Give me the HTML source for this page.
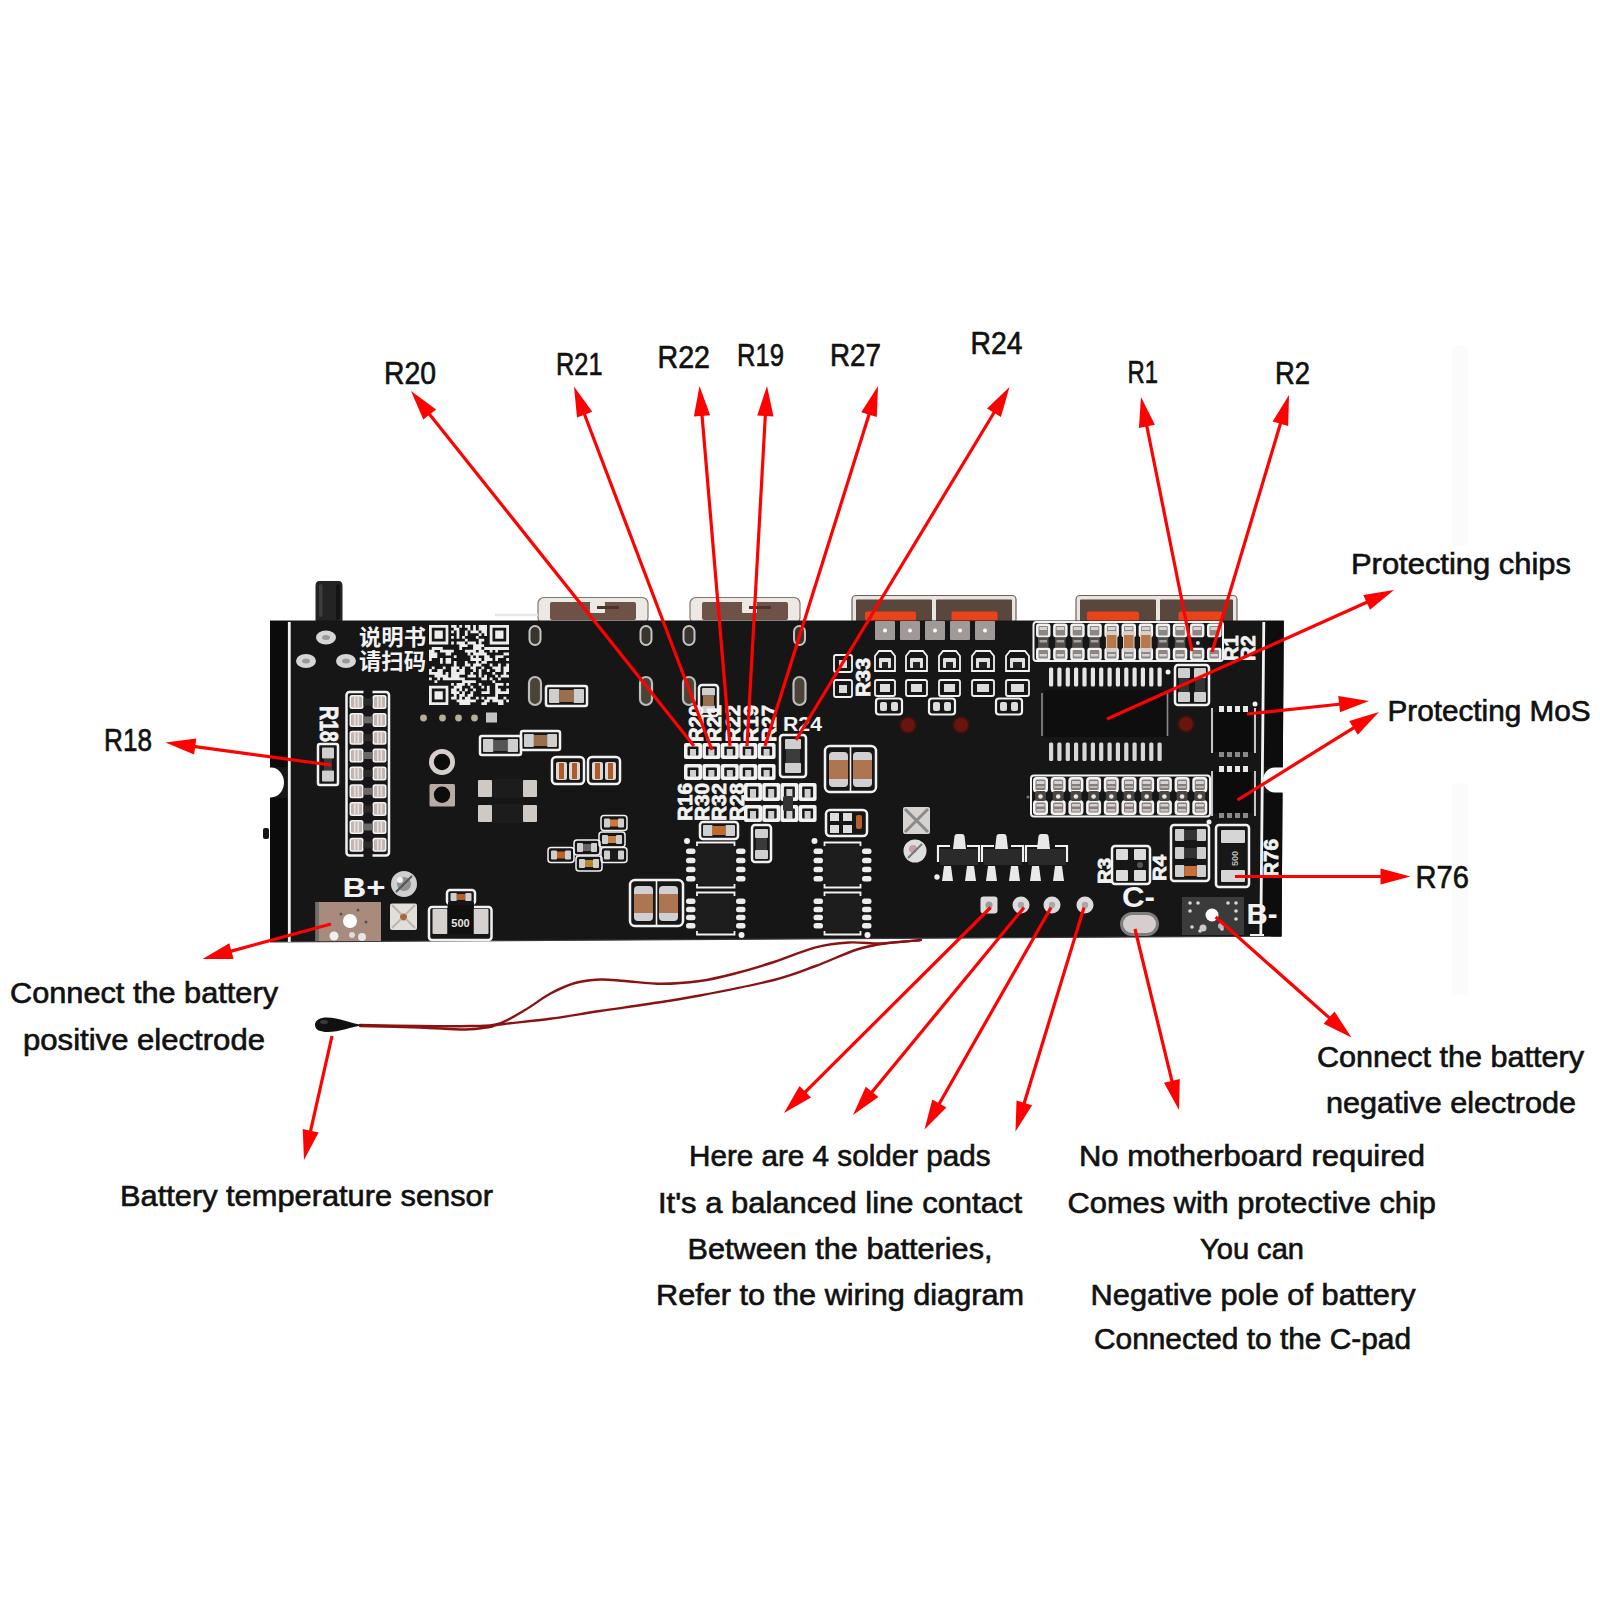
<!DOCTYPE html>
<html lang="en"><head><meta charset="utf-8"><title>Battery protection board wiring diagram</title>
<style>
html,body{margin:0;padding:0;background:#fff;}
body{width:1600px;height:1600px;overflow:hidden;font-family:"Liberation Sans","Noto Sans CJK SC",sans-serif;}
svg{display:block;}
</style></head><body>
<svg width="1600" height="1600" viewBox="0 0 1600 1600">
<rect width="1600" height="1600" fill="#ffffff"/>
<rect x="1452" y="346" width="16" height="200" fill="#fbfbfb" rx="4"/>
<rect x="1452" y="783" width="16" height="212" fill="#fbfbfb" rx="4"/>
<g id="pcb">
<path d="M315.500 621V586q0-5 4-5h19q4 0 4 5V621Z" fill="#242424"/>
<rect x="319" y="584" width="3.5" height="33" fill="#3d3d3d" rx="2"/>
<rect x="336" y="584" width="4" height="36" fill="#151515" rx="2"/>
<rect x="538" y="597.5" width="110" height="26" fill="#ece9e5" rx="6" stroke="#85766c" stroke-width="1.2"/>
<rect x="550" y="602" width="86" height="18" fill="#6e5248" rx="2"/>
<rect x="590" y="602" width="15" height="11" fill="#ece9e5" rx="1"/>
<rect x="597" y="606" width="22" height="3" fill="#4a342c"/>
<rect x="690" y="597.5" width="110" height="26" fill="#ece9e5" rx="6" stroke="#85766c" stroke-width="1.2"/>
<rect x="702" y="602" width="86" height="18" fill="#6e5248" rx="2"/>
<rect x="742" y="602" width="15" height="11" fill="#ece9e5" rx="1"/>
<rect x="749" y="606" width="22" height="3" fill="#4a342c"/>
<path d="M495 615H538" stroke="#e6e6e6" stroke-width="2.5"/>
<rect x="852" y="595.5" width="164" height="28" fill="#e9e6e2" rx="4" stroke="#6f6056" stroke-width="1.2"/>
<rect x="856" y="599.5" width="76" height="22" fill="#59463c" rx="1"/>
<rect x="936" y="599.5" width="76" height="22" fill="#59463c" rx="1"/>
<rect x="865" y="611.5" width="51" height="10" fill="#e8431a" rx="2"/>
<rect x="951.5" y="611.5" width="46" height="10" fill="#e8431a" rx="2"/>
<rect x="1076" y="595.5" width="161" height="28" fill="#e9e6e2" rx="4" stroke="#6f6056" stroke-width="1.2"/>
<rect x="1080" y="599.5" width="76" height="22" fill="#59463c" rx="1"/>
<rect x="1160" y="599.5" width="73" height="22" fill="#59463c" rx="1"/>
<rect x="1087" y="611.5" width="52" height="10" fill="#e8431a" rx="2"/>
<rect x="1178.5" y="611.5" width="44.5" height="10" fill="#e8431a" rx="2"/>
<path d="M270 620.5H1283.8L1282.8 767.5H1275a12 12.5 0 0 0 0 25H1282.5L1281.6 936.2L270 942V797.5H271a13 15 0 0 0 0-30H270Z" fill="#161616"/>
<path d="M270 942L1281.6 936.2" stroke="#3a3a3a" stroke-width="1.2"/>
<rect x="263" y="828" width="6" height="11" fill="#151515" rx="2"/>
<rect x="270" y="621" width="18" height="146" fill="#0b0b0b"/>
<rect x="270" y="798" width="18" height="143" fill="#0b0b0b"/>
<path d="M1265.5 621H1283.8L1282.8 767H1264.5ZM1264 793H1282.5L1281.6 936H1262.5Z" fill="#0d0d0d"/>
<path d="M289.3 622V942M1263.8 622L1260.8 935.5" stroke="#f2f2f2" stroke-width="2.8"/>
</g>
<g id="parts" font-family="'Liberation Sans','Noto Sans CJK SC',sans-serif">
<ellipse cx="326" cy="637.5" rx="10" ry="7" fill="#d6d6d6"/>
<ellipse cx="326" cy="637.5" rx="4" ry="2.5" fill="#9a9a9a"/>
<ellipse cx="306" cy="661" rx="10" ry="7" fill="#d6d6d6"/>
<ellipse cx="306" cy="661" rx="4" ry="2.5" fill="#9a9a9a"/>
<ellipse cx="346" cy="661" rx="10" ry="7" fill="#d6d6d6"/>
<ellipse cx="346" cy="661" rx="4" ry="2.5" fill="#9a9a9a"/>
<text x="359" y="645" font-size="22" font-weight="bold" fill="#f2f2f2" text-anchor="start" textLength="67" lengthAdjust="spacingAndGlyphs">说明书</text>
<text x="359" y="669" font-size="22" font-weight="bold" fill="#f2f2f2" text-anchor="start" textLength="67" lengthAdjust="spacingAndGlyphs">请扫码</text>
<path d="M429 625h19.3v2.8h-19.3zM451.1 625h5.5v2.8h-5.5zM459.3 625h2.8v2.8h-2.8zM464.9 625h5.5v2.8h-5.5zM473.1 625h2.8v2.8h-2.8zM478.7 625h8.3v2.8h-8.3zM489.7 625h19.3v2.8h-19.3zM429 627.8h2.8v2.8h-2.8zM445.6 627.8h2.8v2.8h-2.8zM453.8 627.8h5.5v2.8h-5.5zM467.6 627.8h2.8v2.8h-2.8zM473.1 627.8h2.8v2.8h-2.8zM478.7 627.8h8.3v2.8h-8.3zM489.7 627.8h2.8v2.8h-2.8zM506.2 627.8h2.8v2.8h-2.8zM429 630.5h2.8v2.8h-2.8zM434.5 630.5h8.3v2.8h-8.3zM445.6 630.5h2.8v2.8h-2.8zM451.1 630.5h2.8v2.8h-2.8zM456.6 630.5h2.8v2.8h-2.8zM464.9 630.5h2.8v2.8h-2.8zM470.4 630.5h8.3v2.8h-8.3zM481.4 630.5h5.5v2.8h-5.5zM489.7 630.5h2.8v2.8h-2.8zM495.2 630.5h8.3v2.8h-8.3zM506.2 630.5h2.8v2.8h-2.8zM429 633.3h2.8v2.8h-2.8zM434.5 633.3h8.3v2.8h-8.3zM445.6 633.3h2.8v2.8h-2.8zM456.6 633.3h2.8v2.8h-2.8zM464.9 633.3h2.8v2.8h-2.8zM478.7 633.3h2.8v2.8h-2.8zM484.2 633.3h2.8v2.8h-2.8zM489.7 633.3h2.8v2.8h-2.8zM495.2 633.3h8.3v2.8h-8.3zM506.2 633.3h2.8v2.8h-2.8zM429 636h2.8v2.8h-2.8zM434.5 636h8.3v2.8h-8.3zM445.6 636h2.8v2.8h-2.8zM451.1 636h2.8v2.8h-2.8zM456.6 636h2.8v2.8h-2.8zM462.1 636h2.8v2.8h-2.8zM475.9 636h2.8v2.8h-2.8zM489.7 636h2.8v2.8h-2.8zM495.2 636h8.3v2.8h-8.3zM506.2 636h2.8v2.8h-2.8zM429 638.8h2.8v2.8h-2.8zM445.6 638.8h2.8v2.8h-2.8zM464.9 638.8h2.8v2.8h-2.8zM478.7 638.8h5.5v2.8h-5.5zM489.7 638.8h2.8v2.8h-2.8zM506.2 638.8h2.8v2.8h-2.8zM429 641.6h19.3v2.8h-19.3zM451.1 641.6h2.8v2.8h-2.8zM456.6 641.6h8.3v2.8h-8.3zM467.6 641.6h8.3v2.8h-8.3zM478.7 641.6h2.8v2.8h-2.8zM489.7 641.6h19.3v2.8h-19.3zM459.3 644.3h8.3v2.8h-8.3zM473.1 644.3h11v2.8h-11zM431.8 647.1h11v2.8h-11zM459.3 647.1h2.8v2.8h-2.8zM473.1 647.1h8.3v2.8h-8.3zM484.2 647.1h24.8v2.8h-24.8zM429 649.8h5.5v2.8h-5.5zM440 649.8h13.8v2.8h-13.8zM464.9 649.8h11v2.8h-11zM478.7 649.8h5.5v2.8h-5.5zM489.7 649.8h2.8v2.8h-2.8zM495.2 649.8h2.8v2.8h-2.8zM429 652.6h8.3v2.8h-8.3zM445.6 652.6h5.5v2.8h-5.5zM467.6 652.6h2.8v2.8h-2.8zM473.1 652.6h13.8v2.8h-13.8zM503.5 652.6h5.5v2.8h-5.5zM429 655.3h8.3v2.8h-8.3zM453.8 655.3h2.8v2.8h-2.8zM470.4 655.3h2.8v2.8h-2.8zM475.9 655.3h2.8v2.8h-2.8zM484.2 655.3h5.5v2.8h-5.5zM495.2 655.3h8.3v2.8h-8.3zM429 658.1h2.8v2.8h-2.8zM440 658.1h2.8v2.8h-2.8zM445.6 658.1h5.5v2.8h-5.5zM470.4 658.1h11v2.8h-11zM484.2 658.1h8.3v2.8h-8.3zM495.2 658.1h2.8v2.8h-2.8zM506.2 658.1h2.8v2.8h-2.8zM440 660.9h2.8v2.8h-2.8zM445.6 660.9h5.5v2.8h-5.5zM453.8 660.9h2.8v2.8h-2.8zM464.9 660.9h2.8v2.8h-2.8zM475.9 660.9h2.8v2.8h-2.8zM481.4 660.9h5.5v2.8h-5.5zM453.8 663.6h2.8v2.8h-2.8zM464.9 663.6h5.5v2.8h-5.5zM473.1 663.6h8.3v2.8h-8.3zM489.7 663.6h2.8v2.8h-2.8zM498 663.6h2.8v2.8h-2.8zM506.2 663.6h2.8v2.8h-2.8zM431.8 666.4h2.8v2.8h-2.8zM442.8 666.4h2.8v2.8h-2.8zM451.1 666.4h8.3v2.8h-8.3zM462.1 666.4h2.8v2.8h-2.8zM470.4 666.4h5.5v2.8h-5.5zM481.4 666.4h2.8v2.8h-2.8zM492.4 666.4h8.3v2.8h-8.3zM503.5 666.4h5.5v2.8h-5.5zM429 669.1h2.8v2.8h-2.8zM437.3 669.1h5.5v2.8h-5.5zM451.1 669.1h5.5v2.8h-5.5zM459.3 669.1h5.5v2.8h-5.5zM473.1 669.1h2.8v2.8h-2.8zM478.7 669.1h2.8v2.8h-2.8zM486.9 669.1h2.8v2.8h-2.8zM495.2 669.1h5.5v2.8h-5.5zM503.5 669.1h5.5v2.8h-5.5zM429 671.9h13.8v2.8h-13.8zM445.6 671.9h2.8v2.8h-2.8zM451.1 671.9h13.8v2.8h-13.8zM470.4 671.9h2.8v2.8h-2.8zM478.7 671.9h2.8v2.8h-2.8zM492.4 671.9h2.8v2.8h-2.8zM503.5 671.9h2.8v2.8h-2.8zM434.5 674.7h13.8v2.8h-13.8zM451.1 674.7h8.3v2.8h-8.3zM467.6 674.7h8.3v2.8h-8.3zM478.7 674.7h2.8v2.8h-2.8zM484.2 674.7h2.8v2.8h-2.8zM495.2 674.7h2.8v2.8h-2.8zM500.7 674.7h8.3v2.8h-8.3zM429 677.4h2.8v2.8h-2.8zM437.3 677.4h2.8v2.8h-2.8zM442.8 677.4h22.1v2.8h-22.1zM481.4 677.4h5.5v2.8h-5.5zM489.7 677.4h2.8v2.8h-2.8zM498 677.4h2.8v2.8h-2.8zM434.5 680.2h2.8v2.8h-2.8zM462.1 680.2h13.8v2.8h-13.8zM492.4 680.2h2.8v2.8h-2.8zM451.1 682.9h2.8v2.8h-2.8zM456.6 682.9h8.3v2.8h-8.3zM467.6 682.9h2.8v2.8h-2.8zM478.7 682.9h2.8v2.8h-2.8zM495.2 682.9h8.3v2.8h-8.3zM506.2 682.9h2.8v2.8h-2.8zM429 685.7h19.3v2.8h-19.3zM453.8 685.7h8.3v2.8h-8.3zM470.4 685.7h2.8v2.8h-2.8zM481.4 685.7h2.8v2.8h-2.8zM486.9 685.7h2.8v2.8h-2.8zM495.2 685.7h2.8v2.8h-2.8zM429 688.4h2.8v2.8h-2.8zM445.6 688.4h2.8v2.8h-2.8zM451.1 688.4h5.5v2.8h-5.5zM459.3 688.4h2.8v2.8h-2.8zM464.9 688.4h2.8v2.8h-2.8zM473.1 688.4h2.8v2.8h-2.8zM486.9 688.4h2.8v2.8h-2.8zM495.2 688.4h5.5v2.8h-5.5zM506.2 688.4h2.8v2.8h-2.8zM429 691.2h2.8v2.8h-2.8zM434.5 691.2h8.3v2.8h-8.3zM445.6 691.2h2.8v2.8h-2.8zM451.1 691.2h8.3v2.8h-8.3zM462.1 691.2h2.8v2.8h-2.8zM470.4 691.2h2.8v2.8h-2.8zM481.4 691.2h8.3v2.8h-8.3zM495.2 691.2h13.8v2.8h-13.8zM429 694h2.8v2.8h-2.8zM434.5 694h8.3v2.8h-8.3zM445.6 694h2.8v2.8h-2.8zM453.8 694h2.8v2.8h-2.8zM459.3 694h5.5v2.8h-5.5zM467.6 694h5.5v2.8h-5.5zM495.2 694h2.8v2.8h-2.8zM429 696.7h2.8v2.8h-2.8zM434.5 696.7h8.3v2.8h-8.3zM445.6 696.7h2.8v2.8h-2.8zM451.1 696.7h5.5v2.8h-5.5zM459.3 696.7h2.8v2.8h-2.8zM464.9 696.7h5.5v2.8h-5.5zM475.9 696.7h2.8v2.8h-2.8zM481.4 696.7h2.8v2.8h-2.8zM486.9 696.7h11v2.8h-11zM503.5 696.7h2.8v2.8h-2.8zM429 699.5h2.8v2.8h-2.8zM445.6 699.5h2.8v2.8h-2.8zM456.6 699.5h19.3v2.8h-19.3zM484.2 699.5h5.5v2.8h-5.5zM492.4 699.5h11v2.8h-11zM506.2 699.5h2.8v2.8h-2.8zM429 702.2h19.3v2.8h-19.3zM459.3 702.2h11v2.8h-11zM481.4 702.2h5.5v2.8h-5.5zM498 702.2h5.5v2.8h-5.5z" fill="#ededed"/>
<rect x="529.5" y="626" width="11" height="19" rx="5.5" fill="#3a352c" stroke="#c4c4c4" stroke-width="2"/>
<rect x="529" y="677" width="12" height="28" rx="6" fill="#4a4438" stroke="#bdbdbd" stroke-width="2.2"/>
<rect x="640.5" y="626" width="11" height="19" rx="5.5" fill="#3a352c" stroke="#c4c4c4" stroke-width="2"/>
<rect x="640" y="677" width="12" height="28" rx="6" fill="#4a4438" stroke="#bdbdbd" stroke-width="2.2"/>
<rect x="683.5" y="626" width="11" height="19" rx="5.5" fill="#3a352c" stroke="#c4c4c4" stroke-width="2"/>
<rect x="683" y="677" width="12" height="28" rx="6" fill="#4a4438" stroke="#bdbdbd" stroke-width="2.2"/>
<rect x="794" y="626" width="11" height="19" rx="5.5" fill="#3a352c" stroke="#c4c4c4" stroke-width="2"/>
<rect x="793.5" y="677" width="12" height="28" rx="6" fill="#4a4438" stroke="#bdbdbd" stroke-width="2.2"/>
<text x="319.5" y="706" font-size="25" font-weight="bold" fill="#f2f2f2" stroke="#f2f2f2" stroke-width="0.8" text-anchor="start" transform="rotate(90 319.5 706)" textLength="36" lengthAdjust="spacingAndGlyphs">R18</text>
<rect x="318" y="744" width="20" height="41" fill="none" stroke="#f2f2f2" stroke-width="2.5" rx="2"/>
<rect x="322" y="747.5" width="12" height="11" fill="#cfcfcf" rx="1"/>
<rect x="322" y="770.5" width="12" height="11" fill="#cfcfcf" rx="1"/>
<rect x="324" y="759" width="8" height="11" fill="#3a3a3a"/>
<rect x="346.5" y="692" width="42.5" height="163.5" fill="none" stroke="#f2f2f2" stroke-width="2.5" rx="3"/>
<rect x="363.5" y="690" width="9" height="4" fill="#161616"/>
<rect x="363.5" y="853.5" width="9" height="4" fill="#161616"/>
<rect x="349.5" y="695" width="14" height="14" fill="#f2f2f2" rx="2.5"/>
<rect x="372.5" y="695" width="14" height="14" fill="#f2f2f2" rx="2.5"/>
<rect x="351" y="696.5" width="11" height="11" fill="#c2b6b2" rx="1.5"/>
<rect x="374" y="696.5" width="11" height="11" fill="#c2b6b2" rx="1.5"/>
<rect x="354" y="696.5" width="1.6" height="11" fill="#e8e0dd"/>
<rect x="357.5" y="696.5" width="1.6" height="11" fill="#e8e0dd"/>
<rect x="377" y="696.5" width="1.6" height="11" fill="#e8e0dd"/>
<rect x="380.5" y="696.5" width="1.6" height="11" fill="#e8e0dd"/>
<rect x="363.5" y="698.5" width="9" height="7" fill="#2a2a2a"/>
<rect x="349.5" y="712.9" width="14" height="14" fill="#f2f2f2" rx="2.5"/>
<rect x="372.5" y="712.9" width="14" height="14" fill="#f2f2f2" rx="2.5"/>
<rect x="351" y="714.4" width="11" height="11" fill="#c2b6b2" rx="1.5"/>
<rect x="374" y="714.4" width="11" height="11" fill="#c2b6b2" rx="1.5"/>
<rect x="354" y="714.4" width="1.6" height="11" fill="#e8e0dd"/>
<rect x="357.5" y="714.4" width="1.6" height="11" fill="#e8e0dd"/>
<rect x="377" y="714.4" width="1.6" height="11" fill="#e8e0dd"/>
<rect x="380.5" y="714.4" width="1.6" height="11" fill="#e8e0dd"/>
<rect x="363.5" y="716.4" width="9" height="7" fill="#6a6a6a"/>
<rect x="349.5" y="730.7" width="14" height="14" fill="#f2f2f2" rx="2.5"/>
<rect x="372.5" y="730.7" width="14" height="14" fill="#f2f2f2" rx="2.5"/>
<rect x="351" y="732.2" width="11" height="11" fill="#c2b6b2" rx="1.5"/>
<rect x="374" y="732.2" width="11" height="11" fill="#c2b6b2" rx="1.5"/>
<rect x="354" y="732.2" width="1.6" height="11" fill="#e8e0dd"/>
<rect x="357.5" y="732.2" width="1.6" height="11" fill="#e8e0dd"/>
<rect x="377" y="732.2" width="1.6" height="11" fill="#e8e0dd"/>
<rect x="380.5" y="732.2" width="1.6" height="11" fill="#e8e0dd"/>
<rect x="363.5" y="734.2" width="9" height="7" fill="#2a2a2a"/>
<rect x="349.5" y="748.5" width="14" height="14" fill="#f2f2f2" rx="2.5"/>
<rect x="372.5" y="748.5" width="14" height="14" fill="#f2f2f2" rx="2.5"/>
<rect x="351" y="750" width="11" height="11" fill="#c2b6b2" rx="1.5"/>
<rect x="374" y="750" width="11" height="11" fill="#c2b6b2" rx="1.5"/>
<rect x="354" y="750" width="1.6" height="11" fill="#e8e0dd"/>
<rect x="357.5" y="750" width="1.6" height="11" fill="#e8e0dd"/>
<rect x="377" y="750" width="1.6" height="11" fill="#e8e0dd"/>
<rect x="380.5" y="750" width="1.6" height="11" fill="#e8e0dd"/>
<rect x="363.5" y="752" width="9" height="7" fill="#6a6a6a"/>
<rect x="349.5" y="766.4" width="14" height="14" fill="#f2f2f2" rx="2.5"/>
<rect x="372.5" y="766.4" width="14" height="14" fill="#f2f2f2" rx="2.5"/>
<rect x="351" y="767.9" width="11" height="11" fill="#c2b6b2" rx="1.5"/>
<rect x="374" y="767.9" width="11" height="11" fill="#c2b6b2" rx="1.5"/>
<rect x="354" y="767.9" width="1.6" height="11" fill="#e8e0dd"/>
<rect x="357.5" y="767.9" width="1.6" height="11" fill="#e8e0dd"/>
<rect x="377" y="767.9" width="1.6" height="11" fill="#e8e0dd"/>
<rect x="380.5" y="767.9" width="1.6" height="11" fill="#e8e0dd"/>
<rect x="363.5" y="769.9" width="9" height="7" fill="#2a2a2a"/>
<rect x="349.5" y="784.2" width="14" height="14" fill="#f2f2f2" rx="2.5"/>
<rect x="372.5" y="784.2" width="14" height="14" fill="#f2f2f2" rx="2.5"/>
<rect x="351" y="785.8" width="11" height="11" fill="#c2b6b2" rx="1.5"/>
<rect x="374" y="785.8" width="11" height="11" fill="#c2b6b2" rx="1.5"/>
<rect x="354" y="785.8" width="1.6" height="11" fill="#e8e0dd"/>
<rect x="357.5" y="785.8" width="1.6" height="11" fill="#e8e0dd"/>
<rect x="377" y="785.8" width="1.6" height="11" fill="#e8e0dd"/>
<rect x="380.5" y="785.8" width="1.6" height="11" fill="#e8e0dd"/>
<rect x="363.5" y="787.8" width="9" height="7" fill="#6a6a6a"/>
<rect x="349.5" y="802.1" width="14" height="14" fill="#f2f2f2" rx="2.5"/>
<rect x="372.5" y="802.1" width="14" height="14" fill="#f2f2f2" rx="2.5"/>
<rect x="351" y="803.6" width="11" height="11" fill="#c2b6b2" rx="1.5"/>
<rect x="374" y="803.6" width="11" height="11" fill="#c2b6b2" rx="1.5"/>
<rect x="354" y="803.6" width="1.6" height="11" fill="#e8e0dd"/>
<rect x="357.5" y="803.6" width="1.6" height="11" fill="#e8e0dd"/>
<rect x="377" y="803.6" width="1.6" height="11" fill="#e8e0dd"/>
<rect x="380.5" y="803.6" width="1.6" height="11" fill="#e8e0dd"/>
<rect x="363.5" y="805.6" width="9" height="7" fill="#2a2a2a"/>
<rect x="349.5" y="820" width="14" height="14" fill="#f2f2f2" rx="2.5"/>
<rect x="372.5" y="820" width="14" height="14" fill="#f2f2f2" rx="2.5"/>
<rect x="351" y="821.5" width="11" height="11" fill="#c2b6b2" rx="1.5"/>
<rect x="374" y="821.5" width="11" height="11" fill="#c2b6b2" rx="1.5"/>
<rect x="354" y="821.5" width="1.6" height="11" fill="#e8e0dd"/>
<rect x="357.5" y="821.5" width="1.6" height="11" fill="#e8e0dd"/>
<rect x="377" y="821.5" width="1.6" height="11" fill="#e8e0dd"/>
<rect x="380.5" y="821.5" width="1.6" height="11" fill="#e8e0dd"/>
<rect x="363.5" y="823.5" width="9" height="7" fill="#6a6a6a"/>
<rect x="349.5" y="837.8" width="14" height="14" fill="#f2f2f2" rx="2.5"/>
<rect x="372.5" y="837.8" width="14" height="14" fill="#f2f2f2" rx="2.5"/>
<rect x="351" y="839.3" width="11" height="11" fill="#c2b6b2" rx="1.5"/>
<rect x="374" y="839.3" width="11" height="11" fill="#c2b6b2" rx="1.5"/>
<rect x="354" y="839.3" width="1.6" height="11" fill="#e8e0dd"/>
<rect x="357.5" y="839.3" width="1.6" height="11" fill="#e8e0dd"/>
<rect x="377" y="839.3" width="1.6" height="11" fill="#e8e0dd"/>
<rect x="380.5" y="839.3" width="1.6" height="11" fill="#e8e0dd"/>
<rect x="363.5" y="841.3" width="9" height="7" fill="#2a2a2a"/>
<circle cx="423.5" cy="718" r="3.4" fill="#b8ae98"/>
<circle cx="442.5" cy="718" r="3.4" fill="#b8ae98"/>
<circle cx="458.5" cy="718" r="3.4" fill="#b8ae98"/>
<circle cx="474.5" cy="718" r="3.4" fill="#b8ae98"/>
<rect x="486" y="712.5" width="11" height="10" fill="#c4c4c4"/>
<circle cx="442" cy="762" r="13" fill="#d8cecd"/>
<circle cx="442" cy="762" r="8.2" fill="#0c0c0c"/>
<rect x="429.5" y="784" width="25.5" height="22.5" fill="#b9aaa6" rx="1.5"/>
<circle cx="442" cy="794.8" r="8.2" fill="#0c0c0c"/>
<rect x="546" y="686" width="41" height="20" fill="none" stroke="#f2f2f2" stroke-width="2.5" rx="2"/>
<rect x="549" y="689" width="10.5" height="14" fill="#cfcfcf" rx="1"/>
<rect x="573.5" y="689" width="10.5" height="14" fill="#cfcfcf" rx="1"/>
<rect x="559.5" y="690" width="14" height="12" fill="#9a6f4c"/>
<rect x="480" y="736" width="41" height="19" fill="none" stroke="#f2f2f2" stroke-width="2.5" rx="2"/>
<rect x="483" y="739" width="10.5" height="13" fill="#cfcfcf" rx="1"/>
<rect x="507.5" y="739" width="10.5" height="13" fill="#cfcfcf" rx="1"/>
<rect x="493.5" y="740" width="14" height="11" fill="#555"/>
<rect x="521" y="731" width="39" height="19" fill="none" stroke="#f2f2f2" stroke-width="2.5" rx="2"/>
<rect x="524" y="734" width="9.9" height="13" fill="#cfcfcf" rx="1"/>
<rect x="547.1" y="734" width="9.9" height="13" fill="#cfcfcf" rx="1"/>
<rect x="533.9" y="735" width="13.2" height="11" fill="#9a6f4c"/>
<rect x="552" y="757" width="32" height="27" fill="none" stroke="#f2f2f2" stroke-width="2.5" rx="4"/>
<rect x="556" y="762" width="11" height="18" fill="#d8d8d8" rx="2"/>
<rect x="559" y="763" width="5" height="16" fill="#b05a28"/>
<rect x="569" y="762" width="11" height="18" fill="#d8d8d8" rx="2"/>
<rect x="572" y="763" width="5" height="16" fill="#b05a28"/>
<rect x="588" y="757" width="32" height="27" fill="none" stroke="#f2f2f2" stroke-width="2.5" rx="4"/>
<rect x="592" y="762" width="11" height="18" fill="#d8d8d8" rx="2"/>
<rect x="595" y="763" width="5" height="16" fill="#b05a28"/>
<rect x="605" y="762" width="11" height="18" fill="#d8d8d8" rx="2"/>
<rect x="608" y="763" width="5" height="16" fill="#b05a28"/>
<rect x="478" y="780" width="14" height="17" fill="#cfc9c4" rx="1"/>
<rect x="523" y="780" width="14" height="17" fill="#cfc9c4" rx="1"/>
<rect x="492" y="779" width="31" height="19" fill="#1c1c1c"/>
<rect x="478" y="805" width="14" height="17" fill="#cfc9c4" rx="1"/>
<rect x="523" y="805" width="14" height="17" fill="#cfc9c4" rx="1"/>
<rect x="492" y="804" width="31" height="19" fill="#1c1c1c"/>
<rect x="601" y="815.5" width="26" height="15" fill="none" stroke="#f2f2f2" stroke-width="1.5" rx="3"/>
<rect x="604" y="818.5" width="6" height="9" fill="#cfcfcf" rx="1"/>
<rect x="618" y="818.5" width="6" height="9" fill="#cfcfcf" rx="1"/>
<rect x="610" y="819.5" width="8" height="7" fill="#d07a3a"/>
<rect x="599" y="832" width="26" height="15" fill="none" stroke="#f2f2f2" stroke-width="1.5" rx="3"/>
<rect x="602" y="835" width="6" height="9" fill="#cfcfcf" rx="1"/>
<rect x="616" y="835" width="6" height="9" fill="#cfcfcf" rx="1"/>
<rect x="608" y="836" width="8" height="7" fill="#c8803f"/>
<rect x="601" y="847.5" width="26" height="15" fill="none" stroke="#f2f2f2" stroke-width="1.5" rx="3"/>
<rect x="604" y="850.5" width="6" height="9" fill="#cfcfcf" rx="1"/>
<rect x="618" y="850.5" width="6" height="9" fill="#cfcfcf" rx="1"/>
<rect x="610" y="851.5" width="8" height="7" fill="#1a1a1a"/>
<rect x="574" y="840" width="26" height="15" fill="none" stroke="#f2f2f2" stroke-width="1.5" rx="3"/>
<rect x="577" y="843" width="6" height="9" fill="#cfcfcf" rx="1"/>
<rect x="591" y="843" width="6" height="9" fill="#cfcfcf" rx="1"/>
<rect x="583" y="844" width="8" height="7" fill="#666"/>
<rect x="548" y="847.5" width="26" height="15" fill="none" stroke="#f2f2f2" stroke-width="1.5" rx="3"/>
<rect x="551" y="850.5" width="6" height="9" fill="#cfcfcf" rx="1"/>
<rect x="565" y="850.5" width="6" height="9" fill="#cfcfcf" rx="1"/>
<rect x="557" y="851.5" width="8" height="7" fill="#c0602a"/>
<rect x="576" y="856" width="26" height="15" fill="none" stroke="#f2f2f2" stroke-width="1.5" rx="3"/>
<rect x="579" y="859" width="6" height="9" fill="#cfcfcf" rx="1"/>
<rect x="593" y="859" width="6" height="9" fill="#cfcfcf" rx="1"/>
<rect x="585" y="860" width="8" height="7" fill="#b8862b"/>
<text x="342.5" y="897" font-size="28" font-weight="bold" fill="#f2f2f2" text-anchor="start" textLength="43" lengthAdjust="spacingAndGlyphs">B+</text>
<circle cx="404" cy="884" r="13" fill="#cfcfcf"/>
<circle cx="404" cy="884" r="7" fill="#8f8f8f"/>
<circle cx="400" cy="880" r="3" fill="#f2f2f2"/>
<path d="M396 892l16-16" stroke="#555" stroke-width="2"/>
<rect x="315.5" y="902" width="65.5" height="39" fill="#a98b7e"/>
<rect x="315.5" y="902" width="3.5" height="39" fill="#6f6f6f"/>
<circle cx="350" cy="921" r="7" fill="#ffffff"/>
<circle cx="334" cy="936" r="4.5" fill="#f0f0f0"/>
<circle cx="362" cy="937" r="4" fill="#e6e6e6"/>
<circle cx="352" cy="935" r="3" fill="#ddd"/>
<circle cx="341" cy="914" r="1.5" fill="#555"/>
<circle cx="358" cy="910" r="1.5" fill="#555"/>
<circle cx="366" cy="922" r="1.5" fill="#4a5560"/>
<rect x="390" y="903.5" width="27" height="26.5" fill="#e2ded9" rx="2"/>
<circle cx="403.5" cy="917" r="3.5" fill="#a8683c"/>
<path d="M392 905l23 23M415 905l-23 23" stroke="#bdb6b0" stroke-width="2"/>
<circle cx="403.5" cy="917" r="3" fill="#a8683c"/>
<rect x="429" y="907" width="62.5" height="33" fill="none" stroke="#f2f2f2" stroke-width="2.5" rx="3"/>
<rect x="447" y="890" width="28" height="14" fill="none" stroke="#f2f2f2" stroke-width="2.5" rx="3"/>
<rect x="448" y="902" width="26" height="6" fill="#161616"/>
<rect x="450.5" y="893" width="6.3" height="8" fill="#cfcfcf" rx="1"/>
<rect x="465.2" y="893" width="6.3" height="8" fill="#cfcfcf" rx="1"/>
<rect x="456.8" y="894" width="8.4" height="6" fill="#b5602c"/>
<rect x="432.5" y="909" width="15" height="25" fill="#d5d1ce" rx="1"/>
<rect x="473.5" y="909" width="15" height="25" fill="#d5d1ce" rx="1"/>
<rect x="447.5" y="905" width="26" height="29" fill="#0f0f0f" rx="1"/>
<text x="460.5" y="927" font-size="11" font-weight="bold" fill="#e6e6e6" text-anchor="middle">500</text>
<rect x="699" y="685" width="19" height="31" fill="none" stroke="#f2f2f2" stroke-width="2.5" rx="3"/>
<rect x="702" y="688" width="13" height="7.5" fill="#cfcfcf" rx="1"/>
<rect x="702" y="705.5" width="13" height="7.5" fill="#cfcfcf" rx="1"/>
<rect x="703" y="695.5" width="11" height="10" fill="#9a6f4c"/>
<text x="703" y="742" font-size="21" font-weight="bold" fill="#f2f2f2" stroke="#f2f2f2" stroke-width="0.8" text-anchor="start" transform="rotate(-90 703 742)" textLength="37" lengthAdjust="spacingAndGlyphs">R20</text>
<text x="721.3" y="742" font-size="21" font-weight="bold" fill="#f2f2f2" stroke="#f2f2f2" stroke-width="0.8" text-anchor="start" transform="rotate(-90 721.3 742)" textLength="37" lengthAdjust="spacingAndGlyphs">R21</text>
<text x="739.6" y="742" font-size="21" font-weight="bold" fill="#f2f2f2" stroke="#f2f2f2" stroke-width="0.8" text-anchor="start" transform="rotate(-90 739.6 742)" textLength="37" lengthAdjust="spacingAndGlyphs">R22</text>
<text x="757.9" y="742" font-size="21" font-weight="bold" fill="#f2f2f2" stroke="#f2f2f2" stroke-width="0.8" text-anchor="start" transform="rotate(-90 757.9 742)" textLength="37" lengthAdjust="spacingAndGlyphs">R19</text>
<text x="776.2" y="742" font-size="21" font-weight="bold" fill="#f2f2f2" stroke="#f2f2f2" stroke-width="0.8" text-anchor="start" transform="rotate(-90 776.2 742)" textLength="37" lengthAdjust="spacingAndGlyphs">R27</text>
<text x="783" y="731" font-size="20" font-weight="bold" fill="#f2f2f2" text-anchor="start" textLength="39" lengthAdjust="spacingAndGlyphs">R24</text>
<rect x="684" y="743" width="18" height="16" fill="#f2f2f2" rx="2"/>
<rect x="687.5" y="746.5" width="11" height="9" fill="#1a1a1a" rx="1"/>
<rect x="690" y="749" width="6" height="7" fill="#cfcfcf"/>
<rect x="684" y="764" width="18" height="16" fill="#f2f2f2" rx="2"/>
<rect x="687.5" y="767.5" width="11" height="9" fill="#1a1a1a" rx="1"/>
<rect x="690" y="770" width="6" height="7" fill="#cfcfcf"/>
<rect x="702.4" y="743" width="18" height="16" fill="#f2f2f2" rx="2"/>
<rect x="705.9" y="746.5" width="11" height="9" fill="#1a1a1a" rx="1"/>
<rect x="708.4" y="749" width="6" height="7" fill="#cfcfcf"/>
<rect x="702.4" y="764" width="18" height="16" fill="#f2f2f2" rx="2"/>
<rect x="705.9" y="767.5" width="11" height="9" fill="#1a1a1a" rx="1"/>
<rect x="708.4" y="770" width="6" height="7" fill="#cfcfcf"/>
<rect x="720.8" y="743" width="18" height="16" fill="#f2f2f2" rx="2"/>
<rect x="724.3" y="746.5" width="11" height="9" fill="#1a1a1a" rx="1"/>
<rect x="726.8" y="749" width="6" height="7" fill="#cfcfcf"/>
<rect x="720.8" y="764" width="18" height="16" fill="#f2f2f2" rx="2"/>
<rect x="724.3" y="767.5" width="11" height="9" fill="#1a1a1a" rx="1"/>
<rect x="726.8" y="770" width="6" height="7" fill="#cfcfcf"/>
<rect x="739.2" y="743" width="18" height="16" fill="#f2f2f2" rx="2"/>
<rect x="742.7" y="746.5" width="11" height="9" fill="#1a1a1a" rx="1"/>
<rect x="745.2" y="749" width="6" height="7" fill="#cfcfcf"/>
<rect x="739.2" y="764" width="18" height="16" fill="#f2f2f2" rx="2"/>
<rect x="742.7" y="767.5" width="11" height="9" fill="#1a1a1a" rx="1"/>
<rect x="745.2" y="770" width="6" height="7" fill="#cfcfcf"/>
<rect x="757.6" y="743" width="18" height="16" fill="#f2f2f2" rx="2"/>
<rect x="761.1" y="746.5" width="11" height="9" fill="#1a1a1a" rx="1"/>
<rect x="763.6" y="749" width="6" height="7" fill="#cfcfcf"/>
<rect x="757.6" y="764" width="18" height="16" fill="#f2f2f2" rx="2"/>
<rect x="761.1" y="767.5" width="11" height="9" fill="#1a1a1a" rx="1"/>
<rect x="763.6" y="770" width="6" height="7" fill="#cfcfcf"/>
<rect x="780" y="735" width="26" height="42" fill="none" stroke="#f2f2f2" stroke-width="2.5" rx="3"/>
<rect x="785" y="739" width="16" height="10.2" fill="#cfcfcf" rx="1"/>
<rect x="785" y="762.8" width="16" height="10.2" fill="#cfcfcf" rx="1"/>
<rect x="786" y="749.2" width="14" height="13.6" fill="#3c3c3c"/>
<text x="692" y="821" font-size="21" font-weight="bold" fill="#f2f2f2" stroke="#f2f2f2" stroke-width="0.8" text-anchor="start" transform="rotate(-90 692 821)" textLength="38" lengthAdjust="spacingAndGlyphs">R16</text>
<text x="709.2" y="821" font-size="21" font-weight="bold" fill="#f2f2f2" stroke="#f2f2f2" stroke-width="0.8" text-anchor="start" transform="rotate(-90 709.2 821)" textLength="38" lengthAdjust="spacingAndGlyphs">R30</text>
<text x="726.4" y="821" font-size="21" font-weight="bold" fill="#f2f2f2" stroke="#f2f2f2" stroke-width="0.8" text-anchor="start" transform="rotate(-90 726.4 821)" textLength="38" lengthAdjust="spacingAndGlyphs">R32</text>
<text x="743.6" y="821" font-size="21" font-weight="bold" fill="#f2f2f2" stroke="#f2f2f2" stroke-width="0.8" text-anchor="start" transform="rotate(-90 743.6 821)" textLength="38" lengthAdjust="spacingAndGlyphs">R28</text>
<rect x="744" y="783" width="18" height="18" fill="#f2f2f2" rx="2"/>
<rect x="747.5" y="786.5" width="11" height="11" fill="#1a1a1a" rx="1"/>
<rect x="750" y="789" width="6" height="9" fill="#cfcfcf"/>
<rect x="744" y="805" width="18" height="17" fill="#f2f2f2" rx="2"/>
<rect x="747.5" y="808.5" width="11" height="10" fill="#1a1a1a" rx="1"/>
<rect x="750" y="811" width="6" height="8" fill="#cfcfcf"/>
<rect x="762.2" y="783" width="18" height="18" fill="#f2f2f2" rx="2"/>
<rect x="765.7" y="786.5" width="11" height="11" fill="#1a1a1a" rx="1"/>
<rect x="768.2" y="789" width="6" height="9" fill="#cfcfcf"/>
<rect x="762.2" y="805" width="18" height="17" fill="#f2f2f2" rx="2"/>
<rect x="765.7" y="808.5" width="11" height="10" fill="#1a1a1a" rx="1"/>
<rect x="768.2" y="811" width="6" height="8" fill="#cfcfcf"/>
<rect x="780.4" y="783" width="18" height="18" fill="#f2f2f2" rx="2"/>
<rect x="783.9" y="786.5" width="11" height="11" fill="#1a1a1a" rx="1"/>
<rect x="786.4" y="789" width="6" height="9" fill="#cfcfcf"/>
<rect x="780.4" y="805" width="18" height="17" fill="#f2f2f2" rx="2"/>
<rect x="783.9" y="808.5" width="11" height="10" fill="#1a1a1a" rx="1"/>
<rect x="786.4" y="811" width="6" height="8" fill="#cfcfcf"/>
<rect x="798.6" y="783" width="18" height="18" fill="#f2f2f2" rx="2"/>
<rect x="802.1" y="786.5" width="11" height="11" fill="#1a1a1a" rx="1"/>
<rect x="804.6" y="789" width="6" height="9" fill="#cfcfcf"/>
<rect x="798.6" y="805" width="18" height="17" fill="#f2f2f2" rx="2"/>
<rect x="802.1" y="808.5" width="11" height="10" fill="#1a1a1a" rx="1"/>
<rect x="804.6" y="811" width="6" height="8" fill="#cfcfcf"/>
<rect x="783" y="796" width="10" height="15" fill="#333" rx="2"/>
<rect x="700" y="822" width="38" height="17" fill="none" stroke="#f2f2f2" stroke-width="2.5" rx="3"/>
<rect x="703" y="825" width="9.6" height="11" fill="#cfcfcf" rx="1"/>
<rect x="725.4" y="825" width="9.6" height="11" fill="#cfcfcf" rx="1"/>
<rect x="712.6" y="826" width="12.8" height="9" fill="#c06a30"/>
<rect x="752" y="825" width="19" height="37" fill="none" stroke="#f2f2f2" stroke-width="2.5" rx="3"/>
<rect x="755" y="829" width="13" height="9" fill="#cfcfcf" rx="1"/>
<rect x="755" y="850" width="13" height="9" fill="#cfcfcf" rx="1"/>
<rect x="756" y="838" width="11" height="12" fill="#3a3a3a"/>
<rect x="825" y="746" width="51" height="46" fill="none" stroke="#f2f2f2" stroke-width="2.5" rx="5"/>
<path d="M850.5 746V792" stroke="#f2f2f2" stroke-width="1.6"/>
<rect x="829" y="752" width="19" height="35" fill="#d0d0d4" rx="4"/>
<rect x="829" y="760" width="19" height="19" fill="#ad7650"/>
<rect x="853" y="752" width="19" height="35" fill="#d0d0d4" rx="4"/>
<rect x="853" y="760" width="19" height="19" fill="#ad7650"/>
<rect x="630" y="880" width="53" height="46" fill="none" stroke="#f2f2f2" stroke-width="2.5" rx="5"/>
<path d="M656.5 880V926" stroke="#f2f2f2" stroke-width="1.6"/>
<rect x="634" y="886" width="19" height="35" fill="#d0d0d4" rx="4"/>
<rect x="634" y="894" width="19" height="19" fill="#ad7650"/>
<rect x="659" y="886" width="19" height="35" fill="#d0d0d4" rx="4"/>
<rect x="659" y="894" width="19" height="19" fill="#ad7650"/>
<rect x="834" y="655" width="18" height="17" fill="none" stroke="#f2f2f2" stroke-width="1.8" rx="2"/>
<rect x="839" y="660" width="8" height="8" fill="#d9d9d9"/>
<rect x="834" y="680" width="18" height="17" fill="none" stroke="#f2f2f2" stroke-width="1.8" rx="2"/>
<rect x="839" y="685" width="8" height="8" fill="#d9d9d9"/>
<text x="870" y="697" font-size="21" font-weight="bold" fill="#f2f2f2" stroke="#f2f2f2" stroke-width="0.8" text-anchor="start" transform="rotate(-90 870 697)" textLength="39" lengthAdjust="spacingAndGlyphs">R33</text>
<path d="M875 671V656l4-5h12l4 5V671Z" fill="none" stroke="#f2f2f2" stroke-width="1.8"/>
<rect x="879" y="658" width="12" height="10" fill="#e0e0e0" rx="1"/>
<rect x="882" y="662" width="6" height="6" fill="#222"/>
<rect x="875" y="680" width="20" height="16" fill="none" stroke="#f2f2f2" stroke-width="1.8" rx="2"/>
<rect x="880" y="684" width="10" height="8" fill="#dcdcdc"/>
<path d="M906 671V656l4-5h13l4 5V671Z" fill="none" stroke="#f2f2f2" stroke-width="1.8"/>
<rect x="910" y="658" width="13" height="10" fill="#e0e0e0" rx="1"/>
<rect x="913" y="662" width="7" height="6" fill="#222"/>
<rect x="906" y="680" width="21" height="16" fill="none" stroke="#f2f2f2" stroke-width="1.8" rx="2"/>
<rect x="911" y="684" width="11" height="8" fill="#dcdcdc"/>
<path d="M939 671V656l4-5h13l4 5V671Z" fill="none" stroke="#f2f2f2" stroke-width="1.8"/>
<rect x="943" y="658" width="13" height="10" fill="#e0e0e0" rx="1"/>
<rect x="946" y="662" width="7" height="6" fill="#222"/>
<rect x="939" y="680" width="21" height="16" fill="none" stroke="#f2f2f2" stroke-width="1.8" rx="2"/>
<rect x="944" y="684" width="11" height="8" fill="#dcdcdc"/>
<path d="M972 671V656l4-5h14l4 5V671Z" fill="none" stroke="#f2f2f2" stroke-width="1.8"/>
<rect x="976" y="658" width="14" height="10" fill="#e0e0e0" rx="1"/>
<rect x="979" y="662" width="8" height="6" fill="#222"/>
<rect x="972" y="680" width="22" height="16" fill="none" stroke="#f2f2f2" stroke-width="1.8" rx="2"/>
<rect x="977" y="684" width="12" height="8" fill="#dcdcdc"/>
<path d="M1006 671V656l4-5h15l4 5V671Z" fill="none" stroke="#f2f2f2" stroke-width="1.8"/>
<rect x="1010" y="658" width="15" height="10" fill="#e0e0e0" rx="1"/>
<rect x="1013" y="662" width="9" height="6" fill="#222"/>
<rect x="1006" y="680" width="23" height="16" fill="none" stroke="#f2f2f2" stroke-width="1.8" rx="2"/>
<rect x="1011" y="684" width="13" height="8" fill="#dcdcdc"/>
<rect x="876" y="698.5" width="26" height="16" fill="none" stroke="#f2f2f2" stroke-width="2.2" rx="3"/>
<rect x="880" y="702" width="7" height="9" fill="#ddd" rx="2"/>
<rect x="891" y="702" width="7" height="9" fill="#ddd" rx="2"/>
<rect x="929" y="698.5" width="26" height="16" fill="none" stroke="#f2f2f2" stroke-width="2.2" rx="3"/>
<rect x="933" y="702" width="7" height="9" fill="#ddd" rx="2"/>
<rect x="944" y="702" width="7" height="9" fill="#ddd" rx="2"/>
<rect x="996" y="698.5" width="26" height="16" fill="none" stroke="#f2f2f2" stroke-width="2.2" rx="3"/>
<rect x="1000" y="702" width="7" height="9" fill="#ddd" rx="2"/>
<rect x="1011" y="702" width="7" height="9" fill="#ddd" rx="2"/>
<rect x="875" y="621" width="20" height="19" fill="#9f9a97" rx="1"/>
<circle cx="885" cy="630.5" r="2" fill="#fff"/>
<rect x="900" y="621" width="20" height="19" fill="#9f9a97" rx="1"/>
<circle cx="910" cy="630.5" r="2" fill="#fff"/>
<rect x="925" y="621" width="20" height="19" fill="#9f9a97" rx="1"/>
<circle cx="935" cy="630.5" r="2" fill="#fff"/>
<rect x="950" y="621" width="20" height="19" fill="#9f9a97" rx="1"/>
<circle cx="960" cy="630.5" r="2" fill="#fff"/>
<rect x="975" y="621" width="20" height="19" fill="#9f9a97" rx="1"/>
<circle cx="985" cy="630.5" r="2" fill="#fff"/>
<circle cx="908" cy="725" r="9" fill="#33140f"/>
<circle cx="908" cy="725" r="7" fill="#6a1410"/>
<circle cx="961" cy="725" r="9" fill="#33140f"/>
<circle cx="961" cy="725" r="7" fill="#6a1410"/>
<circle cx="1186" cy="724" r="9" fill="#33140f"/>
<circle cx="1186" cy="724" r="7" fill="#6a1410"/>
<rect x="696" y="845" width="39.5" height="40" fill="#1d1d1d" rx="1.5"/>
<path d="M697 846v-3.500h37.5v3.500M697 884v3.500h37.5v-3.500" fill="none" stroke="#f2f2f2" stroke-width="1.8"/>
<rect x="686" y="848.5" width="9.5" height="5.5" fill="#ececec" rx="2.5"/>
<rect x="736" y="848.5" width="9.5" height="5.5" fill="#ececec" rx="2.5"/>
<rect x="686" y="857.7" width="9.5" height="5.5" fill="#ececec" rx="2.5"/>
<rect x="736" y="857.7" width="9.5" height="5.5" fill="#ececec" rx="2.5"/>
<rect x="686" y="866.8" width="9.5" height="5.5" fill="#ececec" rx="2.5"/>
<rect x="736" y="866.8" width="9.5" height="5.5" fill="#ececec" rx="2.5"/>
<rect x="686" y="876" width="9.5" height="5.5" fill="#ececec" rx="2.5"/>
<rect x="736" y="876" width="9.5" height="5.5" fill="#ececec" rx="2.5"/>
<rect x="696" y="895" width="39.5" height="37" fill="#1d1d1d" rx="1.5"/>
<path d="M697 896v-3.500h37.5v3.500M697 931v3.500h37.5v-3.500" fill="none" stroke="#f2f2f2" stroke-width="1.8"/>
<rect x="686" y="898.5" width="9.5" height="5.5" fill="#ececec" rx="2.5"/>
<rect x="736" y="898.5" width="9.5" height="5.5" fill="#ececec" rx="2.5"/>
<rect x="686" y="906.7" width="9.5" height="5.5" fill="#ececec" rx="2.5"/>
<rect x="736" y="906.7" width="9.5" height="5.5" fill="#ececec" rx="2.5"/>
<rect x="686" y="914.8" width="9.5" height="5.5" fill="#ececec" rx="2.5"/>
<rect x="736" y="914.8" width="9.5" height="5.5" fill="#ececec" rx="2.5"/>
<rect x="686" y="923" width="9.5" height="5.5" fill="#ececec" rx="2.5"/>
<rect x="736" y="923" width="9.5" height="5.5" fill="#ececec" rx="2.5"/>
<circle cx="687" cy="841" r="3" fill="#f2f2f2"/>
<circle cx="741.5" cy="935" r="3" fill="#f2f2f2"/>
<rect x="823.5" y="845" width="38" height="40" fill="#1d1d1d" rx="1.5"/>
<path d="M824.5 846v-3.500h36v3.500M824.5 884v3.500h36v-3.500" fill="none" stroke="#f2f2f2" stroke-width="1.8"/>
<rect x="813.5" y="848.5" width="9.5" height="5.5" fill="#ececec" rx="2.5"/>
<rect x="862" y="848.5" width="9.5" height="5.5" fill="#ececec" rx="2.5"/>
<rect x="813.5" y="857.7" width="9.5" height="5.5" fill="#ececec" rx="2.5"/>
<rect x="862" y="857.7" width="9.5" height="5.5" fill="#ececec" rx="2.5"/>
<rect x="813.5" y="866.8" width="9.5" height="5.5" fill="#ececec" rx="2.5"/>
<rect x="862" y="866.8" width="9.5" height="5.5" fill="#ececec" rx="2.5"/>
<rect x="813.5" y="876" width="9.5" height="5.5" fill="#ececec" rx="2.5"/>
<rect x="862" y="876" width="9.5" height="5.5" fill="#ececec" rx="2.5"/>
<rect x="823.5" y="895" width="38" height="37" fill="#1d1d1d" rx="1.5"/>
<path d="M824.5 896v-3.500h36v3.500M824.5 931v3.500h36v-3.500" fill="none" stroke="#f2f2f2" stroke-width="1.8"/>
<rect x="813.5" y="898.5" width="9.5" height="5.5" fill="#ececec" rx="2.5"/>
<rect x="862" y="898.5" width="9.5" height="5.5" fill="#ececec" rx="2.5"/>
<rect x="813.5" y="906.7" width="9.5" height="5.5" fill="#ececec" rx="2.5"/>
<rect x="862" y="906.7" width="9.5" height="5.5" fill="#ececec" rx="2.5"/>
<rect x="813.5" y="914.8" width="9.5" height="5.5" fill="#ececec" rx="2.5"/>
<rect x="862" y="914.8" width="9.5" height="5.5" fill="#ececec" rx="2.5"/>
<rect x="813.5" y="923" width="9.5" height="5.5" fill="#ececec" rx="2.5"/>
<rect x="862" y="923" width="9.5" height="5.5" fill="#ececec" rx="2.5"/>
<circle cx="814.5" cy="841" r="3" fill="#f2f2f2"/>
<circle cx="867.5" cy="935" r="3" fill="#f2f2f2"/>
<rect x="826" y="810" width="41" height="26" fill="none" stroke="#f2f2f2" stroke-width="2.5" rx="4"/>
<rect x="830" y="813" width="9" height="8" fill="#ddd"/>
<rect x="830" y="825" width="9" height="8" fill="#ddd"/>
<rect x="843" y="813" width="9" height="8" fill="#ddd"/>
<rect x="843" y="825" width="9" height="8" fill="#ddd"/>
<rect x="856" y="815" width="6" height="14" fill="#b5602c" rx="2"/>
<rect x="903" y="807" width="27" height="27" fill="#d6d2cf" rx="2"/>
<path d="M905 809l23 23M928 809l-23 23" stroke="#8a8a8a" stroke-width="3"/>
<circle cx="915" cy="851" r="11.5" fill="#dedede"/>
<circle cx="913" cy="849" r="4" fill="#c9a0a0"/>
<path d="M908 858l14-14" stroke="#777" stroke-width="2"/>
<path d="M938 862V846h12M967 846h12v16" fill="none" stroke="#f2f2f2" stroke-width="2.2"/>
<rect x="940" y="849" width="38" height="16" fill="#2a2a2a"/>
<path d="M953 849l1.500-13q0.500-2 2.500-2h5q2 0 2.500 2l1.500 13Z" fill="#e8e8e8"/>
<path d="M942 881l2-15h7l2 15Z" fill="#e9e9e9"/>
<path d="M965 881l2-15h7l2 15Z" fill="#e9e9e9"/>
<path d="M982 862V846h12M1011 846h12v16" fill="none" stroke="#f2f2f2" stroke-width="2.2"/>
<rect x="984" y="849" width="38" height="16" fill="#2a2a2a"/>
<path d="M995 849l1.500-13q0.500-2 2.500-2h5q2 0 2.500 2l1.500 13Z" fill="#e8e8e8"/>
<path d="M986 881l2-15h7l2 15Z" fill="#e9e9e9"/>
<path d="M1009 881l2-15h7l2 15Z" fill="#e9e9e9"/>
<path d="M1026 862V846h12M1055 846h12v16" fill="none" stroke="#f2f2f2" stroke-width="2.2"/>
<rect x="1028" y="849" width="38" height="16" fill="#2a2a2a"/>
<path d="M1037 849l1.500-13q0.500-2 2.500-2h5q2 0 2.500 2l1.500 13Z" fill="#e8e8e8"/>
<path d="M1030 881l2-15h7l2 15Z" fill="#e9e9e9"/>
<path d="M1053 881l2-15h7l2 15Z" fill="#e9e9e9"/>
<circle cx="937" cy="877" r="2.7" fill="#f2f2f2"/>
<rect x="980.5" y="896.5" width="17" height="17" fill="#dcdcdc" rx="3"/>
<circle cx="989" cy="905" r="3.5" fill="#9a9a9a"/>
<circle cx="1021" cy="905" r="8.5" fill="#dcdcdc"/>
<circle cx="1021" cy="905" r="3.2" fill="#a8a8a8"/>
<circle cx="1052" cy="905" r="8.5" fill="#dcdcdc"/>
<circle cx="1052" cy="905" r="3.2" fill="#a8a8a8"/>
<circle cx="1085" cy="905" r="8.5" fill="#dcdcdc"/>
<circle cx="1085" cy="905" r="3.2" fill="#a8a8a8"/>
<rect x="1033.5" y="622" width="189.5" height="39" fill="none" stroke="#f2f2f2" stroke-width="2" rx="3"/>
<rect x="1036" y="623.5" width="14.5" height="14" fill="#f2f2f2" rx="3"/>
<rect x="1038.5" y="626" width="9.5" height="9.5" fill="#8d8683" rx="1"/>
<rect x="1039.5" y="627" width="7.5" height="3" fill="#d9d4d2"/>
<rect x="1036" y="647.5" width="14.5" height="13" fill="#f2f2f2" rx="3"/>
<rect x="1038.5" y="650" width="9.5" height="8.5" fill="#8d8683" rx="1"/>
<rect x="1039.5" y="654" width="7.5" height="2.5" fill="#d9d4d2"/>
<rect x="1038" y="637.5" width="10.5" height="10" fill="#55504e" rx="1"/>
<rect x="1039.5" y="640" width="7.5" height="2.5" fill="#a8a2a0"/>
<rect x="1053.1" y="623.5" width="14.5" height="14" fill="#f2f2f2" rx="3"/>
<rect x="1055.6" y="626" width="9.5" height="9.5" fill="#8d8683" rx="1"/>
<rect x="1056.6" y="627" width="7.5" height="3" fill="#d9d4d2"/>
<rect x="1053.1" y="647.5" width="14.5" height="13" fill="#f2f2f2" rx="3"/>
<rect x="1055.6" y="650" width="9.5" height="8.5" fill="#8d8683" rx="1"/>
<rect x="1056.6" y="654" width="7.5" height="2.5" fill="#d9d4d2"/>
<rect x="1055.1" y="637.5" width="10.5" height="10" fill="#55504e" rx="1"/>
<rect x="1056.6" y="640" width="7.5" height="2.5" fill="#a8a2a0"/>
<rect x="1070.2" y="623.5" width="14.5" height="14" fill="#f2f2f2" rx="3"/>
<rect x="1072.7" y="626" width="9.5" height="9.5" fill="#8d8683" rx="1"/>
<rect x="1073.7" y="627" width="7.5" height="3" fill="#d9d4d2"/>
<rect x="1070.2" y="647.5" width="14.5" height="13" fill="#f2f2f2" rx="3"/>
<rect x="1072.7" y="650" width="9.5" height="8.5" fill="#8d8683" rx="1"/>
<rect x="1073.7" y="654" width="7.5" height="2.5" fill="#d9d4d2"/>
<rect x="1072.2" y="637.5" width="10.5" height="10" fill="#55504e" rx="1"/>
<rect x="1073.7" y="640" width="7.5" height="2.5" fill="#a8a2a0"/>
<rect x="1087.3" y="623.5" width="14.5" height="14" fill="#f2f2f2" rx="3"/>
<rect x="1089.8" y="626" width="9.5" height="9.5" fill="#8d8683" rx="1"/>
<rect x="1090.8" y="627" width="7.5" height="3" fill="#d9d4d2"/>
<rect x="1087.3" y="647.5" width="14.5" height="13" fill="#f2f2f2" rx="3"/>
<rect x="1089.8" y="650" width="9.5" height="8.5" fill="#8d8683" rx="1"/>
<rect x="1090.8" y="654" width="7.5" height="2.5" fill="#d9d4d2"/>
<rect x="1089.3" y="637.5" width="10.5" height="10" fill="#55504e" rx="1"/>
<rect x="1090.8" y="640" width="7.5" height="2.5" fill="#a8a2a0"/>
<rect x="1104.4" y="623.5" width="14.5" height="14" fill="#f2f2f2" rx="3"/>
<rect x="1106.9" y="626" width="9.5" height="9.5" fill="#8d8683" rx="1"/>
<rect x="1107.9" y="627" width="7.5" height="3" fill="#d9d4d2"/>
<rect x="1104.4" y="647.5" width="14.5" height="13" fill="#f2f2f2" rx="3"/>
<rect x="1106.9" y="650" width="9.5" height="8.5" fill="#8d8683" rx="1"/>
<rect x="1107.9" y="654" width="7.5" height="2.5" fill="#d9d4d2"/>
<rect x="1105.9" y="631" width="11.5" height="21" fill="#d8d2cc" rx="3"/>
<rect x="1106.9" y="635" width="9.5" height="13" fill="#b9774a"/>
<rect x="1121.5" y="623.5" width="14.5" height="14" fill="#f2f2f2" rx="3"/>
<rect x="1124" y="626" width="9.5" height="9.5" fill="#8d8683" rx="1"/>
<rect x="1125" y="627" width="7.5" height="3" fill="#d9d4d2"/>
<rect x="1121.5" y="647.5" width="14.5" height="13" fill="#f2f2f2" rx="3"/>
<rect x="1124" y="650" width="9.5" height="8.5" fill="#8d8683" rx="1"/>
<rect x="1125" y="654" width="7.5" height="2.5" fill="#d9d4d2"/>
<rect x="1123" y="631" width="11.5" height="21" fill="#d8d2cc" rx="3"/>
<rect x="1124" y="635" width="9.5" height="13" fill="#b9774a"/>
<rect x="1138.6" y="623.5" width="14.5" height="14" fill="#f2f2f2" rx="3"/>
<rect x="1141.1" y="626" width="9.5" height="9.5" fill="#8d8683" rx="1"/>
<rect x="1142.1" y="627" width="7.5" height="3" fill="#d9d4d2"/>
<rect x="1138.6" y="647.5" width="14.5" height="13" fill="#f2f2f2" rx="3"/>
<rect x="1141.1" y="650" width="9.5" height="8.5" fill="#8d8683" rx="1"/>
<rect x="1142.1" y="654" width="7.5" height="2.5" fill="#d9d4d2"/>
<rect x="1140.1" y="631" width="11.5" height="21" fill="#d8d2cc" rx="3"/>
<rect x="1141.1" y="635" width="9.5" height="13" fill="#b9774a"/>
<rect x="1155.7" y="623.5" width="14.5" height="14" fill="#f2f2f2" rx="3"/>
<rect x="1158.2" y="626" width="9.5" height="9.5" fill="#8d8683" rx="1"/>
<rect x="1159.2" y="627" width="7.5" height="3" fill="#d9d4d2"/>
<rect x="1155.7" y="647.5" width="14.5" height="13" fill="#f2f2f2" rx="3"/>
<rect x="1158.2" y="650" width="9.5" height="8.5" fill="#8d8683" rx="1"/>
<rect x="1159.2" y="654" width="7.5" height="2.5" fill="#d9d4d2"/>
<rect x="1157.7" y="637.5" width="10.5" height="10" fill="#55504e" rx="1"/>
<rect x="1159.2" y="640" width="7.5" height="2.5" fill="#a8a2a0"/>
<rect x="1172.8" y="623.5" width="14.5" height="14" fill="#f2f2f2" rx="3"/>
<rect x="1175.3" y="626" width="9.5" height="9.5" fill="#8d8683" rx="1"/>
<rect x="1176.3" y="627" width="7.5" height="3" fill="#d9d4d2"/>
<rect x="1172.8" y="647.5" width="14.5" height="13" fill="#f2f2f2" rx="3"/>
<rect x="1175.3" y="650" width="9.5" height="8.5" fill="#8d8683" rx="1"/>
<rect x="1176.3" y="654" width="7.5" height="2.5" fill="#d9d4d2"/>
<rect x="1174.8" y="637.5" width="10.5" height="10" fill="#55504e" rx="1"/>
<rect x="1176.3" y="640" width="7.5" height="2.5" fill="#a8a2a0"/>
<rect x="1189.9" y="623.5" width="14.5" height="14" fill="#f2f2f2" rx="3"/>
<rect x="1192.4" y="626" width="9.5" height="9.5" fill="#8d8683" rx="1"/>
<rect x="1193.4" y="627" width="7.5" height="3" fill="#d9d4d2"/>
<rect x="1189.9" y="647.5" width="14.5" height="13" fill="#f2f2f2" rx="3"/>
<rect x="1192.4" y="650" width="9.5" height="8.5" fill="#8d8683" rx="1"/>
<rect x="1193.4" y="654" width="7.5" height="2.5" fill="#d9d4d2"/>
<rect x="1191.9" y="637.5" width="10.5" height="10" fill="#1a1a1a" rx="1"/>
<circle cx="1197.9" cy="643" r="2" fill="#e0e0e0"/>
<rect x="1207" y="623.5" width="14.5" height="14" fill="#f2f2f2" rx="3"/>
<rect x="1209.5" y="626" width="9.5" height="9.5" fill="#8d8683" rx="1"/>
<rect x="1210.5" y="627" width="7.5" height="3" fill="#d9d4d2"/>
<rect x="1207" y="647.5" width="14.5" height="13" fill="#f2f2f2" rx="3"/>
<rect x="1209.5" y="650" width="9.5" height="8.5" fill="#8d8683" rx="1"/>
<rect x="1210.5" y="654" width="7.5" height="2.5" fill="#d9d4d2"/>
<rect x="1209" y="637.5" width="10.5" height="10" fill="#101010" rx="1"/>
<text x="1238" y="661" font-size="19.5" font-weight="bold" fill="#f2f2f2" stroke="#f2f2f2" stroke-width="0.8" text-anchor="start" transform="rotate(-90 1238 661)" textLength="25.5" lengthAdjust="spacingAndGlyphs">R1</text>
<text x="1254.5" y="661" font-size="19.5" font-weight="bold" fill="#f2f2f2" stroke="#f2f2f2" stroke-width="0.8" text-anchor="start" transform="rotate(-90 1254.5 661)" textLength="25.5" lengthAdjust="spacingAndGlyphs">R2</text>
<rect x="1044" y="690" width="123" height="47" fill="#0e0e0e" rx="2"/>
<path d="M1042 693V736M1167.500 693V736" stroke="#8c8c8c" stroke-width="1.6"/>
<rect x="1049" y="667.5" width="4.2" height="19" fill="#e6e6e6" rx="1.5"/>
<rect x="1049" y="742.5" width="4.2" height="18.5" fill="#d8d8d8" rx="1.5"/>
<rect x="1057.3" y="667.5" width="4.2" height="19" fill="#e6e6e6" rx="1.5"/>
<rect x="1057.3" y="742.5" width="4.2" height="18.5" fill="#d8d8d8" rx="1.5"/>
<rect x="1065.7" y="667.5" width="4.2" height="19" fill="#e6e6e6" rx="1.5"/>
<rect x="1065.7" y="742.5" width="4.2" height="18.5" fill="#d8d8d8" rx="1.5"/>
<rect x="1074" y="667.5" width="4.2" height="19" fill="#e6e6e6" rx="1.5"/>
<rect x="1074" y="742.5" width="4.2" height="18.5" fill="#d8d8d8" rx="1.5"/>
<rect x="1082.4" y="667.5" width="4.2" height="19" fill="#e6e6e6" rx="1.5"/>
<rect x="1082.4" y="742.5" width="4.2" height="18.5" fill="#d8d8d8" rx="1.5"/>
<rect x="1090.8" y="667.5" width="4.2" height="19" fill="#e6e6e6" rx="1.5"/>
<rect x="1090.8" y="742.5" width="4.2" height="18.5" fill="#d8d8d8" rx="1.5"/>
<rect x="1099.1" y="667.5" width="4.2" height="19" fill="#e6e6e6" rx="1.5"/>
<rect x="1099.1" y="742.5" width="4.2" height="18.5" fill="#d8d8d8" rx="1.5"/>
<rect x="1107.5" y="667.5" width="4.2" height="19" fill="#e6e6e6" rx="1.5"/>
<rect x="1107.5" y="742.5" width="4.2" height="18.5" fill="#d8d8d8" rx="1.5"/>
<rect x="1115.8" y="667.5" width="4.2" height="19" fill="#e6e6e6" rx="1.5"/>
<rect x="1115.8" y="742.5" width="4.2" height="18.5" fill="#d8d8d8" rx="1.5"/>
<rect x="1124.2" y="667.5" width="4.2" height="19" fill="#e6e6e6" rx="1.5"/>
<rect x="1124.2" y="742.5" width="4.2" height="18.5" fill="#d8d8d8" rx="1.5"/>
<rect x="1132.5" y="667.5" width="4.2" height="19" fill="#e6e6e6" rx="1.5"/>
<rect x="1132.5" y="742.5" width="4.2" height="18.5" fill="#d8d8d8" rx="1.5"/>
<rect x="1140.8" y="667.5" width="4.2" height="19" fill="#e6e6e6" rx="1.5"/>
<rect x="1140.8" y="742.5" width="4.2" height="18.5" fill="#d8d8d8" rx="1.5"/>
<rect x="1149.2" y="667.5" width="4.2" height="19" fill="#e6e6e6" rx="1.5"/>
<rect x="1149.2" y="742.5" width="4.2" height="18.5" fill="#d8d8d8" rx="1.5"/>
<rect x="1157.5" y="667.5" width="4.2" height="19" fill="#e6e6e6" rx="1.5"/>
<rect x="1157.5" y="742.5" width="4.2" height="18.5" fill="#d8d8d8" rx="1.5"/>
<circle cx="1168" cy="672" r="2.5" fill="#f2f2f2"/>
<rect x="1175" y="665" width="34" height="40" fill="none" stroke="#f2f2f2" stroke-width="2.5" rx="3"/>
<rect x="1178" y="668" width="12" height="10" fill="#cfcfcf" rx="1"/>
<rect x="1178" y="692" width="12" height="10" fill="#cfcfcf" rx="1"/>
<rect x="1179" y="678" width="10" height="14" fill="#333"/>
<rect x="1194" y="668" width="12" height="10" fill="#cfcfcf" rx="1"/>
<rect x="1194" y="692" width="12" height="10" fill="#cfcfcf" rx="1"/>
<rect x="1195" y="678" width="10" height="14" fill="#333"/>
<path d="M1212 708V753M1255 708V753" stroke="#f2f2f2" stroke-width="1.6"/>
<rect x="1214" y="712" width="38" height="40" fill="#0c0c0c" rx="1"/>
<rect x="1219" y="706" width="5" height="6" fill="#e8e8e8"/>
<rect x="1219" y="752" width="5" height="5" fill="#8a8a8a"/>
<rect x="1227" y="706" width="5" height="6" fill="#e8e8e8"/>
<rect x="1227" y="752" width="5" height="5" fill="#8a8a8a"/>
<rect x="1235" y="706" width="5" height="6" fill="#e8e8e8"/>
<rect x="1235" y="752" width="5" height="5" fill="#8a8a8a"/>
<rect x="1243" y="706" width="5" height="6" fill="#e8e8e8"/>
<rect x="1243" y="752" width="5" height="5" fill="#8a8a8a"/>
<path d="M1212 771V816M1255 771V816" stroke="#f2f2f2" stroke-width="1.6"/>
<rect x="1214" y="772" width="38" height="41" fill="#0c0c0c" rx="1"/>
<rect x="1219" y="766" width="5" height="6" fill="#e8e8e8"/>
<rect x="1219" y="813" width="5" height="5" fill="#8a8a8a"/>
<rect x="1227" y="766" width="5" height="6" fill="#e8e8e8"/>
<rect x="1227" y="813" width="5" height="5" fill="#8a8a8a"/>
<rect x="1235" y="766" width="5" height="6" fill="#e8e8e8"/>
<rect x="1235" y="813" width="5" height="5" fill="#8a8a8a"/>
<rect x="1243" y="766" width="5" height="6" fill="#e8e8e8"/>
<rect x="1243" y="813" width="5" height="5" fill="#8a8a8a"/>
<circle cx="1255" cy="704" r="2.5" fill="#f2f2f2"/>
<circle cx="1209" cy="822" r="2.5" fill="#f2f2f2"/>
<rect x="1031" y="775.5" width="179" height="41" fill="none" stroke="#f2f2f2" stroke-width="2" rx="3"/>
<rect x="1033" y="777" width="15" height="15.5" fill="#f2f2f2" rx="3.5"/>
<rect x="1035.5" y="779.5" width="10" height="10.5" fill="#857d7a" rx="1.5"/>
<rect x="1036.5" y="781" width="8" height="3" fill="#d8d2d0"/>
<rect x="1036.5" y="786" width="8" height="2" fill="#bdb6b3"/>
<rect x="1033" y="800" width="15" height="15" fill="#f2f2f2" rx="3.5"/>
<rect x="1035.5" y="802.5" width="10" height="10" fill="#857d7a" rx="1.5"/>
<rect x="1036.5" y="804" width="8" height="2.5" fill="#d8d2d0"/>
<rect x="1036.5" y="809" width="8" height="2.5" fill="#c9c2bf"/>
<rect x="1035" y="791" width="11" height="10" fill="#4a4644" rx="2"/>
<circle cx="1040.5" cy="796.5" r="2.3" fill="#e6e6e6"/>
<rect x="1050.7" y="777" width="15" height="15.5" fill="#f2f2f2" rx="3.5"/>
<rect x="1053.2" y="779.5" width="10" height="10.5" fill="#857d7a" rx="1.5"/>
<rect x="1054.2" y="781" width="8" height="3" fill="#d8d2d0"/>
<rect x="1054.2" y="786" width="8" height="2" fill="#bdb6b3"/>
<rect x="1050.7" y="800" width="15" height="15" fill="#f2f2f2" rx="3.5"/>
<rect x="1053.2" y="802.5" width="10" height="10" fill="#857d7a" rx="1.5"/>
<rect x="1054.2" y="804" width="8" height="2.5" fill="#d8d2d0"/>
<rect x="1054.2" y="809" width="8" height="2.5" fill="#c9c2bf"/>
<rect x="1052.7" y="791" width="11" height="10" fill="#4a4644" rx="2"/>
<circle cx="1058.2" cy="796.5" r="2.3" fill="#e6e6e6"/>
<rect x="1068.4" y="777" width="15" height="15.5" fill="#f2f2f2" rx="3.5"/>
<rect x="1070.9" y="779.5" width="10" height="10.5" fill="#857d7a" rx="1.5"/>
<rect x="1071.9" y="781" width="8" height="3" fill="#d8d2d0"/>
<rect x="1071.9" y="786" width="8" height="2" fill="#bdb6b3"/>
<rect x="1068.4" y="800" width="15" height="15" fill="#f2f2f2" rx="3.5"/>
<rect x="1070.9" y="802.5" width="10" height="10" fill="#857d7a" rx="1.5"/>
<rect x="1071.9" y="804" width="8" height="2.5" fill="#d8d2d0"/>
<rect x="1071.9" y="809" width="8" height="2.5" fill="#c9c2bf"/>
<rect x="1070.4" y="791" width="11" height="10" fill="#4a4644" rx="2"/>
<circle cx="1075.9" cy="796.5" r="2.3" fill="#e6e6e6"/>
<rect x="1086.1" y="777" width="15" height="15.5" fill="#f2f2f2" rx="3.5"/>
<rect x="1088.6" y="779.5" width="10" height="10.5" fill="#857d7a" rx="1.5"/>
<rect x="1089.6" y="781" width="8" height="3" fill="#d8d2d0"/>
<rect x="1089.6" y="786" width="8" height="2" fill="#bdb6b3"/>
<rect x="1086.1" y="800" width="15" height="15" fill="#f2f2f2" rx="3.5"/>
<rect x="1088.6" y="802.5" width="10" height="10" fill="#857d7a" rx="1.5"/>
<rect x="1089.6" y="804" width="8" height="2.5" fill="#d8d2d0"/>
<rect x="1089.6" y="809" width="8" height="2.5" fill="#c9c2bf"/>
<rect x="1088.1" y="791" width="11" height="10" fill="#4a4644" rx="2"/>
<circle cx="1093.6" cy="796.5" r="2.3" fill="#e6e6e6"/>
<rect x="1103.8" y="777" width="15" height="15.5" fill="#f2f2f2" rx="3.5"/>
<rect x="1106.3" y="779.5" width="10" height="10.5" fill="#857d7a" rx="1.5"/>
<rect x="1107.3" y="781" width="8" height="3" fill="#d8d2d0"/>
<rect x="1107.3" y="786" width="8" height="2" fill="#bdb6b3"/>
<rect x="1103.8" y="800" width="15" height="15" fill="#f2f2f2" rx="3.5"/>
<rect x="1106.3" y="802.5" width="10" height="10" fill="#857d7a" rx="1.5"/>
<rect x="1107.3" y="804" width="8" height="2.5" fill="#d8d2d0"/>
<rect x="1107.3" y="809" width="8" height="2.5" fill="#c9c2bf"/>
<rect x="1105.8" y="791" width="11" height="10" fill="#4a4644" rx="2"/>
<circle cx="1111.3" cy="796.5" r="2.3" fill="#e6e6e6"/>
<rect x="1121.5" y="777" width="15" height="15.5" fill="#f2f2f2" rx="3.5"/>
<rect x="1124" y="779.5" width="10" height="10.5" fill="#857d7a" rx="1.5"/>
<rect x="1125" y="781" width="8" height="3" fill="#d8d2d0"/>
<rect x="1125" y="786" width="8" height="2" fill="#bdb6b3"/>
<rect x="1121.5" y="800" width="15" height="15" fill="#f2f2f2" rx="3.5"/>
<rect x="1124" y="802.5" width="10" height="10" fill="#857d7a" rx="1.5"/>
<rect x="1125" y="804" width="8" height="2.5" fill="#d8d2d0"/>
<rect x="1125" y="809" width="8" height="2.5" fill="#c9c2bf"/>
<rect x="1123.5" y="791" width="11" height="10" fill="#4a4644" rx="2"/>
<circle cx="1129" cy="796.5" r="2.3" fill="#e6e6e6"/>
<rect x="1139.2" y="777" width="15" height="15.5" fill="#f2f2f2" rx="3.5"/>
<rect x="1141.7" y="779.5" width="10" height="10.5" fill="#857d7a" rx="1.5"/>
<rect x="1142.7" y="781" width="8" height="3" fill="#d8d2d0"/>
<rect x="1142.7" y="786" width="8" height="2" fill="#bdb6b3"/>
<rect x="1139.2" y="800" width="15" height="15" fill="#f2f2f2" rx="3.5"/>
<rect x="1141.7" y="802.5" width="10" height="10" fill="#857d7a" rx="1.5"/>
<rect x="1142.7" y="804" width="8" height="2.5" fill="#d8d2d0"/>
<rect x="1142.7" y="809" width="8" height="2.5" fill="#c9c2bf"/>
<rect x="1141.2" y="791" width="11" height="10" fill="#4a4644" rx="2"/>
<circle cx="1146.7" cy="796.5" r="2.3" fill="#e6e6e6"/>
<rect x="1156.9" y="777" width="15" height="15.5" fill="#f2f2f2" rx="3.5"/>
<rect x="1159.4" y="779.5" width="10" height="10.5" fill="#857d7a" rx="1.5"/>
<rect x="1160.4" y="781" width="8" height="3" fill="#d8d2d0"/>
<rect x="1160.4" y="786" width="8" height="2" fill="#bdb6b3"/>
<rect x="1156.9" y="800" width="15" height="15" fill="#f2f2f2" rx="3.5"/>
<rect x="1159.4" y="802.5" width="10" height="10" fill="#857d7a" rx="1.5"/>
<rect x="1160.4" y="804" width="8" height="2.5" fill="#d8d2d0"/>
<rect x="1160.4" y="809" width="8" height="2.5" fill="#c9c2bf"/>
<rect x="1158.9" y="791" width="11" height="10" fill="#4a4644" rx="2"/>
<circle cx="1164.4" cy="796.5" r="2.3" fill="#e6e6e6"/>
<rect x="1174.6" y="777" width="15" height="15.5" fill="#f2f2f2" rx="3.5"/>
<rect x="1177.1" y="779.5" width="10" height="10.5" fill="#857d7a" rx="1.5"/>
<rect x="1178.1" y="781" width="8" height="3" fill="#d8d2d0"/>
<rect x="1178.1" y="786" width="8" height="2" fill="#bdb6b3"/>
<rect x="1174.6" y="800" width="15" height="15" fill="#f2f2f2" rx="3.5"/>
<rect x="1177.1" y="802.5" width="10" height="10" fill="#857d7a" rx="1.5"/>
<rect x="1178.1" y="804" width="8" height="2.5" fill="#d8d2d0"/>
<rect x="1178.1" y="809" width="8" height="2.5" fill="#c9c2bf"/>
<rect x="1176.6" y="791" width="11" height="10" fill="#4a4644" rx="2"/>
<circle cx="1182.1" cy="796.5" r="2.3" fill="#e6e6e6"/>
<rect x="1192.3" y="777" width="15" height="15.5" fill="#f2f2f2" rx="3.5"/>
<rect x="1194.8" y="779.5" width="10" height="10.5" fill="#857d7a" rx="1.5"/>
<rect x="1195.8" y="781" width="8" height="3" fill="#d8d2d0"/>
<rect x="1195.8" y="786" width="8" height="2" fill="#bdb6b3"/>
<rect x="1192.3" y="800" width="15" height="15" fill="#f2f2f2" rx="3.5"/>
<rect x="1194.8" y="802.5" width="10" height="10" fill="#857d7a" rx="1.5"/>
<rect x="1195.8" y="804" width="8" height="2.5" fill="#d8d2d0"/>
<rect x="1195.8" y="809" width="8" height="2.5" fill="#c9c2bf"/>
<rect x="1194.3" y="791" width="11" height="10" fill="#4a4644" rx="2"/>
<circle cx="1199.8" cy="796.5" r="2.3" fill="#e6e6e6"/>
<circle cx="1028" cy="797" r="1.5" fill="#777"/>
<rect x="1112" y="846" width="38" height="38" fill="none" stroke="#f2f2f2" stroke-width="2.5" rx="3"/>
<rect x="1116" y="849" width="12" height="11" fill="#dcdcdc" rx="1"/>
<rect x="1116" y="870" width="12" height="11" fill="#dcdcdc" rx="1"/>
<rect x="1134" y="849" width="12" height="11" fill="#dcdcdc" rx="1"/>
<rect x="1134" y="870" width="12" height="11" fill="#dcdcdc" rx="1"/>
<circle cx="1140" cy="865" r="3" fill="#555"/>
<text x="1111" y="884" font-size="19" font-weight="bold" fill="#f2f2f2" stroke="#f2f2f2" stroke-width="0.8" text-anchor="start" transform="rotate(-90 1111 884)" textLength="26" lengthAdjust="spacingAndGlyphs">R3</text>
<text x="1166" y="881" font-size="19" font-weight="bold" fill="#f2f2f2" stroke="#f2f2f2" stroke-width="0.8" text-anchor="start" transform="rotate(-90 1166 881)" textLength="26" lengthAdjust="spacingAndGlyphs">R4</text>
<rect x="1171" y="825" width="38" height="56" fill="none" stroke="#f2f2f2" stroke-width="2.5" rx="3"/>
<rect x="1175" y="829" width="9.3" height="12" fill="#cfcfcf" rx="1"/>
<rect x="1196.7" y="829" width="9.3" height="12" fill="#cfcfcf" rx="1"/>
<rect x="1184.3" y="830" width="12.4" height="10" fill="#333"/>
<rect x="1175" y="847" width="9.3" height="12" fill="#cfcfcf" rx="1"/>
<rect x="1196.7" y="847" width="9.3" height="12" fill="#cfcfcf" rx="1"/>
<rect x="1184.3" y="848" width="12.4" height="10" fill="#333"/>
<rect x="1175" y="865" width="9.3" height="12" fill="#cfcfcf" rx="1"/>
<rect x="1196.7" y="865" width="9.3" height="12" fill="#cfcfcf" rx="1"/>
<rect x="1184.3" y="866" width="12.4" height="10" fill="#c8703a"/>
<rect x="1216" y="825" width="33" height="62" fill="none" stroke="#f2f2f2" stroke-width="2.5" rx="3"/>
<rect x="1221" y="830" width="24" height="13" fill="#d6d6d6" rx="1"/>
<rect x="1223" y="845" width="20" height="24" fill="#181818"/>
<rect x="1221" y="870" width="24" height="12" fill="#d6d6d6" rx="1"/>
<text x="1238" y="866" font-size="9" font-weight="bold" fill="#bbb" transform="rotate(-90 1238 866)">500</text>
<text x="1277.5" y="877" font-size="21" font-weight="bold" fill="#f2f2f2" stroke="#f2f2f2" stroke-width="0.8" text-anchor="start" transform="rotate(-90 1277.5 877)" textLength="38" lengthAdjust="spacingAndGlyphs">R76</text>
<text x="1122" y="907" font-size="29" font-weight="bold" fill="#f2f2f2" text-anchor="start" textLength="33" lengthAdjust="spacingAndGlyphs">C-</text>
<rect x="1121.5" y="913.5" width="36" height="21" fill="#d6cdce" rx="10.5" stroke="#7d7d7d" stroke-width="3"/>
<rect x="1182" y="897" width="62" height="38" fill="#3b3b3b"/>
<circle cx="1190" cy="903" r="1.8" fill="#d8d8d8"/>
<circle cx="1198" cy="903" r="1.8" fill="#d8d8d8"/>
<circle cx="1190" cy="911" r="1.8" fill="#d8d8d8"/>
<circle cx="1236" cy="903" r="1.8" fill="#d8d8d8"/>
<circle cx="1236" cy="911" r="1.8" fill="#d8d8d8"/>
<circle cx="1236" cy="919" r="1.8" fill="#d8d8d8"/>
<circle cx="1228" cy="903" r="1.8" fill="#d8d8d8"/>
<circle cx="1192" cy="927" r="1.8" fill="#d8d8d8"/>
<circle cx="1200" cy="931" r="1.8" fill="#d8d8d8"/>
<circle cx="1222" cy="929" r="1.8" fill="#d8d8d8"/>
<circle cx="1212" cy="915" r="6.5" fill="#ffffff"/>
<circle cx="1203" cy="928" r="3.5" fill="#ccc"/>
<circle cx="1221" cy="926" r="3" fill="#bbb"/>
<text x="1246.5" y="923.5" font-size="30" font-weight="bold" fill="#f2f2f2" text-anchor="start" textLength="31" lengthAdjust="spacingAndGlyphs">B-</text>
<path d="M1250 935H1264" stroke="#f2f2f2" stroke-width="2"/>
</g>
<path d="M360 1025C370 1025.2 401.7 1025.8 420 1026C438.3 1026.2 457 1026.3 470 1026C483 1025.7 488.8 1026.7 498 1024C507.2 1021.3 516.3 1015 525 1010C533.7 1005 541.7 998.3 550 993.8C558.3 989.3 566.7 985.4 575 983C583.3 980.6 591.7 979.8 600 979.5C608.3 979.2 614.7 980.3 625 981C635.3 981.7 649.5 983.8 662 983.8C674.5 983.8 688.2 982.6 700 981C711.8 979.4 720.7 977.2 733 974C745.3 970.8 760.2 966.4 774 962C787.8 957.6 803.2 950.6 815.7 947.4C828.2 944.1 838 943.1 848.7 942.5C859.4 941.9 870.6 943.7 880 943.5C889.4 943.3 898.2 942.1 905 941.5C911.8 940.9 918.3 940.2 921 940" fill="none" stroke="#8a1212" stroke-width="2.4" stroke-linecap="round"/>
<path d="M360 1026C370 1026.2 402.5 1026.9 420 1027.5C437.5 1028.1 453.3 1029.6 465 1029.5C476.7 1029.4 484.2 1027.8 490 1027C495.8 1026.2 490 1025.9 500 1024.5C510 1023.1 533.3 1021 550 1018.8C566.7 1016.5 583.3 1013.5 600 1011C616.7 1008.5 633.3 1006.4 650 1003.8C666.7 1001.2 679.3 999.5 700 995.5C720.7 991.5 754.7 984.9 774 980C793.3 975.1 801.9 971.1 815.7 966C829.5 960.9 845.3 953.3 857 949.5C868.7 945.7 875.5 944.8 885.8 943.3C896.1 941.8 913.5 940.9 919 940.4" fill="none" stroke="#8a1212" stroke-width="2.4" stroke-linecap="round"/>
<path d="M315 1025c0-5 5-7.5 12-7.5c12 0 24 6 35.500 7.500c-11 2-23 7-35 7c-7 0-12.500-2-12.500-7z" fill="#111"/>
<ellipse cx="324" cy="1022" rx="4" ry="2" fill="#3a3a3a"/>
<g id="arrows">
<path d="M694 746L428.5 412.9" stroke="#fe0202" stroke-width="3.2"/>
<path d="M411 391L436.1 409.4L423.3 419.5Z" fill="#fe0202"/>
<path d="M712 750L583.9 412.7" stroke="#fe0202" stroke-width="3.2"/>
<path d="M574 386.5L592.3 411.7L577 417.4Z" fill="#fe0202"/>
<path d="M730 746L701.9 413.9" stroke="#fe0202" stroke-width="3.2"/>
<path d="M699.5 386L710.2 415.2L693.9 416.6Z" fill="#fe0202"/>
<path d="M747 746L765.4 414" stroke="#fe0202" stroke-width="3.2"/>
<path d="M767 386L773.5 416.4L757.2 415.5Z" fill="#fe0202"/>
<path d="M765 746L869.6 412.7" stroke="#fe0202" stroke-width="3.2"/>
<path d="M878 386L876.8 417.1L861.2 412.2Z" fill="#fe0202"/>
<path d="M796 740L995 411" stroke="#fe0202" stroke-width="3.2"/>
<path d="M1009.5 387L1000.9 416.9L987 408.5Z" fill="#fe0202"/>
<path d="M1192 651L1146.5 424.5" stroke="#fe0202" stroke-width="3.2"/>
<path d="M1141 397L1154.9 424.8L1138.9 428Z" fill="#fe0202"/>
<path d="M1212 652L1281 421.8" stroke="#fe0202" stroke-width="3.2"/>
<path d="M1289 395L1288.2 426.1L1272.6 421.4Z" fill="#fe0202"/>
<path d="M1107 719L1368.5 601.5" stroke="#fe0202" stroke-width="3.2"/>
<path d="M1394 590L1370 609.7L1363.3 594.9Z" fill="#fe0202"/>
<path d="M1247 714L1341.2 704" stroke="#fe0202" stroke-width="3.2"/>
<path d="M1369 701L1340 712.3L1338.3 696.1Z" fill="#fe0202"/>
<path d="M1237.5 800L1355.2 726.8" stroke="#fe0202" stroke-width="3.2"/>
<path d="M1379 712L1357.8 734.8L1349.2 720.9Z" fill="#fe0202"/>
<path d="M1235 876.5L1382.5 876.5" stroke="#fe0202" stroke-width="3.2"/>
<path d="M1410.5 876.5L1380.5 884.6L1380.5 868.4Z" fill="#fe0202"/>
<path d="M1215.6 917L1330.5 1018.9" stroke="#fe0202" stroke-width="3.2"/>
<path d="M1351.5 1037.5L1323.6 1023.7L1334.5 1011.5Z" fill="#fe0202"/>
<path d="M1135 929L1172.4 1082.8" stroke="#fe0202" stroke-width="3.2"/>
<path d="M1179 1110L1164 1082.8L1179.8 1078.9Z" fill="#fe0202"/>
<path d="M990.6 907.5L803.9 1093.3" stroke="#fe0202" stroke-width="3.2"/>
<path d="M784 1113L799.5 1086.1L811 1097.6Z" fill="#fe0202"/>
<path d="M1024 907.5L870.8 1093.4" stroke="#fe0202" stroke-width="3.2"/>
<path d="M853 1115L865.8 1086.7L878.4 1097Z" fill="#fe0202"/>
<path d="M1051 907.5L938.4 1105.2" stroke="#fe0202" stroke-width="3.2"/>
<path d="M924.5 1129.5L932.3 1099.4L946.4 1107.5Z" fill="#fe0202"/>
<path d="M1084 907.5L1023.7 1104.7" stroke="#fe0202" stroke-width="3.2"/>
<path d="M1015.5 1131.5L1016.5 1100.4L1032.1 1105.2Z" fill="#fe0202"/>
<path d="M331 765L193.2 746.3" stroke="#fe0202" stroke-width="3.2"/>
<path d="M165.5 742.5L196.3 738.5L194.1 754.6Z" fill="#fe0202"/>
<path d="M331 924L229.5 951.6" stroke="#fe0202" stroke-width="3.2"/>
<path d="M202.5 959L229.3 943.3L233.6 959Z" fill="#fe0202"/>
<path d="M332 1036L310.2 1132.7" stroke="#fe0202" stroke-width="3.2"/>
<path d="M304 1160L302.7 1128.9L318.6 1132.5Z" fill="#fe0202"/>
</g>
<g id="labels" font-family="'Liberation Sans',sans-serif" font-size="30" fill="#111" stroke="#111" stroke-width="0.65">
<text x="384" y="384" font-size="31.5" textLength="52" lengthAdjust="spacingAndGlyphs">R20</text>
<text x="556" y="375" font-size="31.5" textLength="46.5" lengthAdjust="spacingAndGlyphs">R21</text>
<text x="657.5" y="367.5" font-size="31.5" textLength="52.5" lengthAdjust="spacingAndGlyphs">R22</text>
<text x="737" y="366" font-size="31.5" textLength="47" lengthAdjust="spacingAndGlyphs">R19</text>
<text x="830" y="366" font-size="31.5" textLength="51" lengthAdjust="spacingAndGlyphs">R27</text>
<text x="970.5" y="354" font-size="31.5" textLength="52" lengthAdjust="spacingAndGlyphs">R24</text>
<text x="1127.5" y="382.5" font-size="31.5" textLength="30.5" lengthAdjust="spacingAndGlyphs">R1</text>
<text x="1275" y="384" font-size="31.5" textLength="35" lengthAdjust="spacingAndGlyphs">R2</text>
<text x="1351" y="574" textLength="220" lengthAdjust="spacingAndGlyphs">Protecting chips</text>
<text x="1387.5" y="720.5" textLength="203" lengthAdjust="spacingAndGlyphs">Protecting MoS</text>
<text x="1415.6" y="888" font-size="31.5" textLength="53.4" lengthAdjust="spacingAndGlyphs">R76</text>
<text x="104" y="751" font-size="31.5" textLength="48" lengthAdjust="spacingAndGlyphs">R18</text>
<text x="10" y="1003" textLength="268" lengthAdjust="spacingAndGlyphs">Connect the battery</text>
<text x="23" y="1050" textLength="242" lengthAdjust="spacingAndGlyphs">positive electrode</text>
<text x="120" y="1206" textLength="373" lengthAdjust="spacingAndGlyphs">Battery temperature sensor</text>
<text x="1317" y="1067" textLength="267" lengthAdjust="spacingAndGlyphs">Connect the battery</text>
<text x="1326" y="1113" textLength="250" lengthAdjust="spacingAndGlyphs">negative electrode</text>
<text x="689" y="1166" textLength="301.6" lengthAdjust="spacingAndGlyphs">Here are 4 solder pads</text>
<text x="658" y="1212.5" textLength="364" lengthAdjust="spacingAndGlyphs">It&#39;s a balanced line contact</text>
<text x="687.5" y="1259" textLength="305" lengthAdjust="spacingAndGlyphs">Between the batteries,</text>
<text x="656" y="1305" textLength="368" lengthAdjust="spacingAndGlyphs">Refer to the wiring diagram</text>
<text x="1079" y="1166" textLength="346" lengthAdjust="spacingAndGlyphs">No motherboard required</text>
<text x="1067.5" y="1212.5" textLength="368.5" lengthAdjust="spacingAndGlyphs">Comes with protective chip</text>
<text x="1200" y="1259" textLength="104" lengthAdjust="spacingAndGlyphs">You can</text>
<text x="1090.6" y="1305" textLength="325" lengthAdjust="spacingAndGlyphs">Negative pole of battery</text>
<text x="1094" y="1349" textLength="317" lengthAdjust="spacingAndGlyphs">Connected to the C-pad</text>
</g>
</svg>
</body></html>
